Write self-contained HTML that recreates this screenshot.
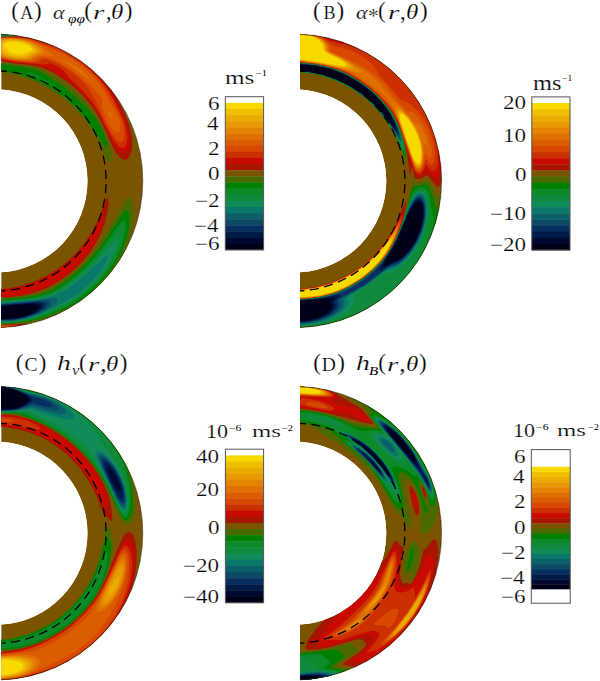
<!DOCTYPE html>
<html><head><meta charset="utf-8">
<style>
html,body{margin:0;padding:0;background:#fff;}
body{width:600px;height:681px;position:relative;overflow:hidden;font-family:"Liberation Serif",serif;color:#111;}
.fig{position:absolute;left:0;top:0;}
.t,.ti{position:absolute;line-height:1;white-space:nowrap;transform-origin:0 0;color:#000;font-family:'Liberation Serif',serif;-webkit-text-stroke:0.2px #fff;}
.ti{font-style:italic;}
.sm{-webkit-text-stroke:0;}
</style></head><body>
<svg class="fig" width="600" height="681" viewBox="0 0 600 681">
<defs>
<clipPath id="clipA"><path d="M1.20,34.29 A146.70,146.70 0 0 1 1.20,327.51 L1.20,272.25 A91.50,91.50 0 0 0 1.20,89.55 Z"/></clipPath>
<clipPath id="clipB"><path d="M300.00,34.29 A146.70,146.70 0 0 1 300.00,327.51 L300.00,272.25 A91.50,91.50 0 0 0 300.00,89.55 Z"/></clipPath>
<clipPath id="clipC"><path d="M1.20,386.59 A146.70,146.70 0 0 1 1.20,679.81 L1.20,624.55 A91.50,91.50 0 0 0 1.20,441.85 Z"/></clipPath>
<clipPath id="clipD"><path d="M300.00,386.59 A146.70,146.70 0 0 1 300.00,679.81 L300.00,624.55 A91.50,91.50 0 0 0 300.00,441.85 Z"/></clipPath>
</defs>
<g clip-path="url(#clipA)">
<path fill="#7b5400" d="M1.20,34.29 A146.70,146.70 0 0 1 1.20,327.51 L1.20,272.25 A91.50,91.50 0 0 0 1.20,89.55 Z"/>
<path fill="#a81400" fill-rule="evenodd" d="M125.7,159.8 123.2,159.7 120.7,158.3 115.2,152.0 101.2,121.6 96.7,113.4 92.2,106.7 81.7,94.2 70.2,83.7 56.1,74.2 48.4,70.2 41.0,67.2 33.2,65.4 14.2,63.3 -0.8,60.7 -0.8,36.8 18.2,36.6 28.7,35.9 34.2,37.0 46.2,41.0 60.7,46.9 73.7,54.0 85.2,61.9 96.5,71.7 106.9,83.2 115.4,95.2 122.8,109.2 129.0,124.2 131.9,136.2 132.2,146.7 131.4,151.7 129.9,155.7 128.2,158.3 125.7,159.8ZM0.2,297.7 -0.8,297.7 -0.8,289.1 8.1,288.2 18.7,286.2 29.1,283.2 38.2,279.7 47.3,275.2 55.6,270.2 63.2,264.7 70.3,258.7 80.7,247.7 90.7,233.8 98.7,218.6 106.7,198.2 107.7,197.0 108.2,197.3 108.6,203.7 107.3,213.7 104.4,224.2 100.5,234.2 95.5,243.7 89.9,252.2 83.5,260.2 75.7,268.2 67.2,275.4 58.7,281.3 49.7,286.5 40.7,290.5 31.7,293.4 21.2,295.7 9.7,297.2 0.2,297.7ZM16.7,329.7 -0.8,329.7 -0.8,324.7 23.7,323.8 27.2,324.0 28.6,324.7 27.9,325.7 24.7,327.3 16.7,329.7Z"/>
<path fill="#c80a00" fill-rule="evenodd" d="M124.2,152.8 121.7,152.5 119.2,150.9 113.7,144.5 99.2,115.3 90.9,102.7 80.2,90.6 68.2,80.4 54.2,71.6 41.2,65.9 33.2,64.3 11.7,62.1 -0.8,59.7 -0.8,37.1 27.7,37.4 34.7,38.9 44.2,41.9 58.2,47.4 70.2,53.6 82.2,61.5 92.2,69.8 102.3,80.2 110.9,91.7 118.0,104.2 125.4,120.2 128.6,131.2 129.6,141.2 129.1,145.7 128.0,149.2 126.2,151.8 124.2,152.8ZM9.7,296.2 -0.8,296.7 -0.8,290.4 8.2,289.4 18.2,287.5 27.2,285.0 36.7,281.5 45.2,277.5 53.2,273.0 60.7,267.9 68.2,262.0 77.4,253.2 85.4,243.7 93.0,232.7 102.2,216.5 103.7,215.1 103.7,219.4 101.7,226.9 98.2,235.7 94.2,243.5 84.7,257.2 78.4,264.2 71.5,270.7 64.6,276.2 57.2,281.2 42.5,288.7 34.2,291.7 26.7,293.7 9.7,296.2ZM11.2,329.7 -0.8,329.7 -0.8,325.0 17.7,324.6 22.8,325.2 22.6,326.2 20.2,327.4 11.2,329.7Z"/>
<path fill="#cc3000" fill-rule="evenodd" d="M123.2,147.8 121.2,147.7 118.7,146.3 112.7,139.3 98.3,111.2 92.1,101.7 82.7,90.8 68.8,77.2 63.7,70.7 56.2,65.7 50.2,63.3 45.7,64.5 43.2,64.5 15.2,61.8 -0.8,58.8 -0.8,37.4 11.7,37.2 24.7,37.9 31.7,39.1 39.7,41.6 55.7,47.6 67.2,53.1 79.2,60.6 89.7,69.0 99.4,78.7 107.5,89.2 113.3,98.7 122.3,116.7 125.9,127.2 127.3,136.7 126.4,144.2 125.2,146.4 123.2,147.8ZM7.2,329.7 -0.8,329.7 -0.8,325.4 14.7,325.1 19.3,325.7 18.9,326.7 16.7,327.7 7.2,329.7Z"/>
<path fill="#d84800" fill-rule="evenodd" d="M120.7,142.2 118.7,141.6 116.7,140.0 111.2,133.1 105.7,122.9 95.7,100.6 87.1,86.2 79.1,77.7 72.0,72.2 63.5,66.7 54.2,61.7 47.7,59.2 43.2,58.8 37.7,61.9 32.2,62.4 14.2,61.0 -0.8,57.9 -0.8,37.7 10.2,37.5 21.2,38.0 28.7,39.1 35.8,41.2 56.3,49.2 65.8,53.7 76.6,60.2 87.1,68.2 96.4,77.2 104.2,86.9 109.2,94.8 119.7,114.6 123.2,124.3 124.5,133.2 123.7,139.8 122.3,141.7 120.7,142.2ZM2.2,329.7 -0.8,329.7 -0.8,325.7 12.2,325.5 16.4,326.2 15.6,327.2 12.2,328.3 2.2,329.7Z"/>
<path fill="#dc5c00" fill-rule="evenodd" d="M118.2,132.5 116.2,132.3 113.2,129.9 109.7,125.2 106.7,119.7 102.2,107.2 101.6,103.7 102.3,99.7 101.2,97.2 90.2,85.2 79.6,75.7 71.7,70.0 62.7,64.4 53.2,59.5 47.2,57.4 43.7,56.9 40.7,57.2 34.2,60.9 28.7,61.5 11.7,59.9 4.2,58.5 -0.8,56.8 -0.8,38.2 8.2,37.8 18.2,38.2 25.7,39.1 32.2,40.8 64.3,54.7 73.2,59.7 82.4,66.2 91.9,74.7 99.7,83.8 104.2,90.7 109.0,100.7 115.7,111.1 118.6,117.7 120.0,123.7 119.9,129.7 119.2,131.5 118.2,132.5ZM3.7,329.2 -0.8,329.4 -0.8,326.0 10.2,325.9 13.8,326.7 10.5,328.2 3.7,329.2Z"/>
<path fill="#e07000" fill-rule="evenodd" d="M30.7,60.3 24.2,60.6 13.2,59.5 4.3,57.7 -0.8,55.5 -0.8,38.8 5.7,38.2 14.7,38.3 23.0,39.2 29.3,40.7 35.7,43.2 41.2,46.2 53.8,55.7 53.2,56.1 45.2,55.4 39.7,55.7 30.7,60.3ZM89.2,78.9 60.5,59.2 61.9,59.2 67.9,61.7 78.2,67.7 86.5,74.7 89.1,77.7 89.6,78.7 89.2,78.9ZM111.7,117.2 110.7,117.0 109.2,115.2 108.3,112.7 108.7,111.4 110.2,112.1 111.3,113.7 112.0,115.7 111.7,117.2ZM4.7,328.7 -0.8,329.0 -0.8,326.3 10.9,326.7 11.0,327.2 10.0,327.7 4.7,328.7Z"/>
<path fill="#e48400" fill-rule="evenodd" d="M26.7,59.7 19.2,59.6 9.5,58.2 4.2,56.7 -0.5,54.2 -0.8,39.8 4.2,38.8 10.7,38.6 18.7,39.1 25.1,40.2 31.2,42.2 36.1,44.7 40.3,47.7 43.0,50.7 43.5,52.2 42.7,53.3 36.4,55.2 31.2,58.5 26.7,59.7ZM4.7,328.3 -0.8,328.6 -0.8,326.7 6.2,326.7 8.2,327.2 4.7,328.3Z"/>
<path fill="#e89800" fill-rule="evenodd" d="M25.2,58.7 18.7,58.8 11.2,57.7 5.9,56.2 1.9,54.2 -0.8,51.9 -0.8,41.3 3.2,39.7 7.7,39.1 14.8,39.2 22.2,40.2 27.5,41.7 32.1,43.7 36.0,46.2 39.1,49.2 39.9,51.2 38.9,52.7 33.9,54.7 29.1,57.7 25.2,58.7ZM2.7,327.7 -0.8,327.5 3.1,327.7 2.7,327.7Z"/>
<path fill="#ebab00" fill-rule="evenodd" d="M23.2,57.7 18.2,57.8 12.7,57.0 8.0,55.7 3.8,53.7 1.9,52.2 0.6,50.2 -0.7,45.2 -0.2,43.2 2.5,41.2 6.2,40.1 11.7,39.7 18.5,40.2 23.7,41.3 28.8,43.2 33.2,45.7 36.4,48.7 37.1,50.7 36.0,52.2 27.3,56.7 23.2,57.7Z"/>
<path fill="#f0c000" fill-rule="evenodd" d="M22.7,56.2 18.7,56.5 14.2,56.0 9.5,54.7 6.4,53.2 3.5,50.2 1.7,45.7 2.1,43.7 4.2,42.0 7.7,40.9 12.2,40.5 17.7,40.9 22.7,41.9 27.5,43.7 31.1,45.7 33.8,48.2 34.6,50.2 33.7,51.4 25.7,55.4 22.7,56.2Z"/>
<path fill="#f8da00" fill-rule="evenodd" d="M21.2,54.3 15.6,54.2 10.1,52.2 5.1,46.7 4.5,45.2 4.8,44.2 6.7,42.7 9.7,41.8 17.7,41.8 26.0,44.2 29.5,46.2 31.5,48.2 32.0,49.7 30.7,51.0 21.2,54.3Z"/>
<path fill="#4a6a00" fill-rule="evenodd" d="M16.7,36.2 -0.8,36.5 -0.8,32.2 14.0,32.2 18.9,33.7 20.7,35.2 16.7,36.2ZM110.2,162.0 108.7,161.6 107.2,159.6 96.7,138.7 88.7,125.6 79.7,114.0 69.6,103.7 62.5,97.7 54.8,92.2 46.6,87.2 37.6,82.7 28.9,79.2 19.5,76.2 8.6,73.7 -0.8,72.3 -0.8,61.8 12.7,64.3 32.7,66.7 41.4,69.2 49.5,73.2 58.4,78.7 67.3,85.2 75.7,92.3 84.2,100.6 91.7,109.4 97.7,118.1 102.7,127.3 107.7,138.7 110.8,148.7 111.7,157.2 111.2,160.4 110.2,162.0ZM4.7,324.2 -0.8,324.3 -0.8,298.6 19.2,296.8 41.1,292.2 52.3,287.2 66.7,277.6 80.5,265.7 93.7,251.3 100.2,242.7 107.2,232.1 124.7,200.9 128.2,197.6 129.7,197.6 130.7,198.3 132.2,200.9 133.3,205.2 133.8,216.2 132.3,228.7 128.6,242.2 123.4,254.7 116.9,266.2 109.5,276.7 100.1,287.2 90.2,296.1 80.2,303.4 69.2,309.8 56.7,315.5 46.2,319.0 35.7,321.4 20.2,323.2 4.7,324.2Z"/>
<path fill="#008000" fill-rule="evenodd" d="M7.2,36.2 -0.8,36.3 -0.8,32.2 10.2,32.2 15.2,33.4 17.6,34.7 17.6,35.2 16.2,35.7 7.2,36.2ZM106.2,146.3 105.2,146.2 103.2,144.1 91.4,126.2 82.5,114.7 73.2,104.9 63.2,96.3 49.2,86.9 34.2,79.5 17.7,73.9 -0.8,70.0 -0.8,63.7 11.2,65.8 27.6,67.7 35.3,69.7 41.2,72.4 49.2,77.1 64.7,87.8 73.7,95.2 82.1,103.2 89.7,111.4 95.7,119.1 100.2,126.3 104.2,134.8 106.5,142.2 106.7,144.7 106.2,146.3ZM6.7,323.7 -0.8,323.9 -0.8,299.6 29.4,296.7 39.2,294.9 50.7,290.7 62.4,283.7 77.6,271.7 91.2,258.2 104.7,241.1 122.7,213.3 125.7,210.5 127.7,210.7 128.9,212.7 129.5,216.2 129.2,226.2 127.0,237.2 122.8,249.2 117.4,260.2 111.1,270.2 103.7,279.7 95.0,288.7 86.2,296.1 77.2,302.4 67.2,308.1 56.2,313.0 43.7,317.4 30.7,320.9 19.5,322.7 6.7,323.7Z"/>
<path fill="#0a8a28" fill-rule="evenodd" d="M12.2,35.7 -0.8,36.0 -0.8,32.2 8.2,32.4 13.2,33.5 15.3,34.7 15.0,35.2 12.2,35.7ZM57.7,88.6 45.2,81.5 26.7,72.7 27.7,72.2 30.7,72.7 38.9,76.2 51.7,83.7 58.1,88.2 57.7,88.6ZM59.2,89.4 57.8,88.7 58.2,88.4 59.2,89.4ZM7.7,323.2 -0.8,323.3 -0.8,300.7 27.2,298.2 39.6,296.2 50.3,292.7 61.3,286.7 75.6,276.2 89.1,263.7 102.7,247.8 120.2,223.0 123.2,220.3 124.2,220.2 125.0,220.7 125.8,222.7 126.1,225.7 124.9,234.7 122.0,244.7 117.5,255.2 112.1,264.7 105.3,274.2 98.0,282.7 89.7,290.6 81.7,296.9 72.7,302.9 63.2,308.1 53.2,312.5 40.7,317.0 28.7,320.4 18.7,322.2 7.7,323.2Z"/>
<path fill="#0f8a3c" fill-rule="evenodd" d="M7.2,35.7 -0.8,35.8 -0.8,32.2 7.7,32.7 11.8,33.7 13.3,34.7 11.7,35.3 7.2,35.7ZM7.2,322.7 -0.8,322.7 -0.8,301.6 26.6,299.2 38.7,297.5 48.7,294.7 59.2,289.7 73.1,280.2 86.2,269.0 99.6,254.7 117.2,232.2 119.7,230.0 120.7,229.7 121.5,230.2 122.0,234.7 120.2,243.1 116.7,252.2 112.1,261.2 106.5,269.7 100.2,277.7 93.2,285.2 85.2,292.3 77.2,298.2 68.2,303.8 58.7,308.7 47.7,313.3 36.2,317.4 26.7,320.0 17.2,321.8 7.2,322.7Z"/>
<path fill="#108c58" fill-rule="evenodd" d="M9.2,35.2 -0.8,35.6 -0.8,32.3 6.2,32.9 11.0,34.2 11.2,34.7 9.2,35.2ZM6.2,322.2 -0.8,322.1 -0.8,302.4 27.2,299.9 38.7,298.4 48.7,295.9 57.7,292.0 69.2,284.9 81.7,275.1 94.7,262.7 112.7,242.5 115.2,240.6 116.7,240.9 116.6,245.2 114.2,252.6 110.2,260.7 105.7,268.0 100.2,275.3 94.1,282.2 87.2,288.7 79.8,294.7 71.6,300.2 62.8,305.2 40.7,315.0 23.7,320.1 15.2,321.5 6.2,322.2Z"/>
<path fill="#0a7868" fill-rule="evenodd" d="M5.2,35.2 -0.8,35.3 -0.8,32.6 5.7,33.2 9.0,34.2 8.8,34.7 5.2,35.2ZM12.7,321.2 -0.8,321.5 -0.8,303.1 38.2,299.3 48.7,297.1 57.2,294.0 65.7,289.5 75.7,282.5 87.2,273.0 104.2,257.2 106.7,255.6 107.7,256.0 107.2,259.2 105.2,263.7 101.2,270.2 96.7,276.1 87.1,286.2 75.1,295.7 59.1,305.2 40.3,314.2 26.2,318.9 12.7,321.2Z"/>
<path fill="#0a6066" fill-rule="evenodd" d="M5.7,34.7 -0.8,35.0 -0.8,33.0 3.7,33.3 6.8,34.2 5.7,34.7ZM12.7,320.7 -0.8,321.0 -0.8,303.7 33.0,300.7 53.2,297.8 55.7,297.8 57.0,298.7 56.8,301.7 54.5,304.7 49.8,308.2 43.7,311.7 36.2,315.0 28.7,317.6 20.7,319.5 12.7,320.7Z"/>
<path fill="#0a4a66" fill-rule="evenodd" d="M3.7,34.2 -0.8,34.6 -0.8,33.5 3.7,34.2ZM12.7,320.2 -0.8,320.4 -0.8,304.4 44.7,300.2 48.7,300.5 50.3,301.7 50.1,304.2 47.9,307.2 44.0,310.2 39.5,312.7 26.7,317.6 12.7,320.2Z"/>
<path fill="#062e60" fill-rule="evenodd" d="M13.2,319.7 -0.8,319.9 -0.8,305.0 39.7,301.6 44.2,301.8 46.4,303.2 46.1,305.7 44.2,308.2 41.0,310.7 36.6,313.2 25.7,317.3 13.2,319.7Z"/>
<path fill="#001a4a" fill-rule="evenodd" d="M13.2,319.3 6.2,319.7 -0.8,319.4 -0.8,305.6 35.7,302.6 40.7,302.7 43.3,304.2 43.2,306.2 41.5,308.7 34.9,313.2 24.7,317.0 13.2,319.3Z"/>
<path fill="#000a30" fill-rule="evenodd" d="M6.7,319.2 -0.8,318.9 -0.8,306.2 13.2,304.7 32.7,303.4 38.5,303.7 40.7,305.2 40.5,307.2 38.5,309.7 35.0,312.2 29.9,314.7 18.7,317.9 6.7,319.2Z"/>
<path fill="#000018" fill-rule="evenodd" d="M7.7,318.7 -0.8,318.3 -0.8,306.9 12.2,305.3 29.2,304.2 35.2,304.3 38.2,305.7 38.2,307.7 36.7,309.7 33.4,312.2 29.4,314.2 19.2,317.3 7.7,318.7Z"/>
<path d="M-1.80,70.92 A110.00,110.00 0 0 1 -1.80,290.88" fill="none" stroke="#000" stroke-width="1.3" stroke-dasharray="9 5.5"/>
</g>
<path d="M1.20,34.29 A146.70,146.70 0 0 1 1.20,327.51" fill="none" stroke="#2a1a00" stroke-opacity="0.8" stroke-width="0.8"/>
<g clip-path="url(#clipB)">
<path fill="#7b5400" d="M300.00,34.29 A146.70,146.70 0 0 1 300.00,327.51 L300.00,272.25 A91.50,91.50 0 0 0 300.00,89.55 Z"/>
<path fill="#a81400" fill-rule="evenodd" d="M438.5,186.9 437.5,187.0 436.0,185.9 429.0,176.9 427.0,175.3 426.0,175.4 420.5,178.7 415.5,179.3 414.5,177.4 413.0,170.3 411.5,166.5 410.3,175.7 409.3,171.7 407.2,154.2 405.3,145.2 401.7,132.7 396.8,120.2 393.0,113.1 388.0,106.3 381.2,98.7 373.5,91.4 365.5,84.9 357.5,79.4 348.0,73.9 340.0,70.3 331.0,67.3 320.5,64.9 310.5,63.3 298.0,62.3 298.0,32.2 314.0,32.2 324.7,35.7 344.0,39.9 359.5,45.6 372.5,52.0 385.0,60.0 396.0,68.8 406.6,79.2 416.8,91.7 424.8,104.2 431.8,118.2 437.3,133.2 441.2,150.2 442.7,166.2 442.6,173.7 441.7,180.2 440.4,184.7 438.5,186.9ZM304.0,298.7 298.0,298.9 298.0,288.8 306.2,288.2 317.9,286.2 328.7,283.2 338.0,279.7 347.2,275.2 355.6,270.2 364.5,263.7 371.8,257.2 381.5,246.7 391.0,233.2 397.5,221.1 405.0,202.5 406.0,200.5 406.4,200.7 406.0,206.5 403.5,217.1 400.0,227.8 395.5,238.7 391.0,247.4 386.0,255.2 381.0,261.6 375.0,267.9 367.5,274.4 359.5,280.3 351.0,285.5 342.0,289.9 333.0,293.4 324.5,295.8 314.4,297.7 304.0,298.7Z"/>
<path fill="#c80a00" fill-rule="evenodd" d="M437.5,177.8 435.5,177.7 432.5,176.3 426.5,170.1 425.5,170.5 422.0,174.9 420.0,176.1 417.5,176.2 415.0,174.5 411.5,162.9 410.0,159.7 409.0,159.0 402.6,134.7 396.0,117.5 391.5,110.2 386.0,103.3 378.7,95.7 371.0,88.8 362.5,82.4 355.0,77.5 347.0,73.1 339.5,69.8 330.0,66.9 319.0,64.5 298.0,62.1 298.0,32.2 310.5,32.2 327.5,38.2 346.7,42.7 360.0,47.6 372.0,53.6 383.2,60.7 393.5,68.7 403.5,78.1 413.0,89.2 421.5,101.6 428.5,114.6 434.0,128.2 438.1,143.2 440.3,158.7 440.5,166.2 440.1,172.2 439.0,176.1 437.5,177.8ZM301.5,298.7 298.0,298.8 298.0,289.2 309.1,288.2 317.3,286.7 326.8,284.2 335.2,281.2 344.1,277.2 353.1,272.2 360.5,267.2 368.0,261.2 378.5,250.8 387.0,240.1 394.0,229.0 403.0,210.9 404.0,209.4 404.3,209.7 403.5,215.5 400.5,225.7 396.5,236.0 391.5,246.2 387.0,253.6 382.5,259.6 377.0,265.7 370.6,271.7 363.0,277.7 355.5,282.7 347.5,287.2 338.5,291.3 330.0,294.2 321.5,296.3 312.5,297.8 301.5,298.7Z"/>
<path fill="#cc3000" fill-rule="evenodd" d="M420.0,173.9 418.5,174.1 417.0,173.6 414.5,170.6 398.0,121.1 393.6,112.7 387.2,104.2 378.2,94.7 368.3,86.2 358.0,78.9 346.5,72.4 336.5,68.5 325.0,65.5 313.0,63.3 298.0,61.8 298.0,32.2 307.8,32.2 311.0,33.0 319.0,35.8 330.5,41.0 347.9,45.2 364.3,51.7 376.1,58.2 387.0,65.7 397.6,74.7 407.5,85.2 418.5,100.1 427.5,116.7 434.0,133.8 437.5,149.7 438.1,162.2 437.5,166.2 436.1,169.2 434.0,170.8 431.5,170.7 426.0,164.7 422.5,171.7 420.0,173.9ZM307.5,298.2 298.0,298.7 298.0,289.5 313.5,287.7 330.5,283.2 345.6,276.7 359.5,268.2 371.6,258.2 383.0,245.9 391.5,233.9 402.5,214.8 402.0,219.6 399.0,229.2 395.5,237.7 391.0,246.7 382.5,259.4 371.0,271.2 356.9,281.7 349.0,286.3 340.8,290.2 332.9,293.2 323.9,295.7 307.5,298.2Z"/>
<path fill="#d84800" fill-rule="evenodd" d="M419.5,172.2 417.0,171.7 414.5,168.6 398.5,121.5 393.7,112.2 387.3,103.7 378.0,94.0 368.0,85.5 356.5,77.5 346.5,72.0 337.5,68.5 325.5,65.4 312.0,63.0 298.0,61.5 298.0,32.2 305.4,32.2 315.5,35.0 324.4,39.2 334.0,46.0 343.0,47.9 349.5,50.0 356.5,53.1 363.0,56.8 368.9,61.2 374.1,66.2 377.1,70.2 379.9,75.7 400.0,99.0 402.5,100.9 406.5,101.9 410.0,103.9 418.6,111.7 425.1,120.7 430.2,131.2 433.8,143.2 435.1,154.2 434.6,160.2 433.0,164.2 431.5,165.2 430.0,164.7 426.5,159.7 425.5,159.3 422.8,168.7 421.1,171.2 419.5,172.2ZM306.0,298.2 298.0,298.5 298.0,289.7 308.5,288.7 316.9,287.2 326.5,284.7 335.1,281.7 343.0,278.2 351.4,273.7 359.1,268.7 366.9,262.7 376.0,254.2 384.5,244.3 391.0,235.2 401.0,219.0 400.5,223.5 397.5,232.4 393.5,241.5 389.0,249.9 380.5,261.6 369.0,272.7 355.1,282.7 347.0,287.2 339.3,290.7 323.4,295.7 306.0,298.2Z"/>
<path fill="#dc5c00" fill-rule="evenodd" d="M419.0,170.8 416.5,169.7 414.5,167.1 399.0,122.0 393.7,111.2 388.3,103.7 380.5,95.6 370.0,86.4 357.5,77.5 348.0,72.0 338.5,68.5 326.5,65.3 313.0,62.9 298.0,61.2 298.0,32.2 302.9,32.2 309.0,33.4 315.5,35.5 321.4,38.2 325.9,41.2 328.8,44.2 330.2,46.7 330.2,50.2 331.0,51.2 359.0,64.5 368.0,70.0 376.5,76.6 383.9,83.7 399.5,103.2 406.5,111.1 408.5,112.3 410.0,111.0 411.5,111.3 414.5,113.4 418.0,116.9 423.5,124.5 427.8,133.2 430.8,142.7 432.0,151.2 431.5,156.1 430.0,158.3 428.5,157.5 426.0,153.6 425.0,153.1 422.8,166.2 421.0,169.6 419.0,170.8ZM303.5,298.2 298.0,298.4 298.0,289.8 315.3,287.7 323.7,285.7 332.9,282.7 349.1,275.2 356.5,270.7 364.1,265.2 373.2,257.2 382.1,247.7 388.6,239.2 399.6,222.7 399.0,227.1 396.0,235.4 392.0,244.1 387.5,252.0 378.5,263.6 366.4,274.7 359.6,279.7 351.5,284.7 336.4,291.7 320.3,296.2 303.5,298.2Z"/>
<path fill="#e07000" fill-rule="evenodd" d="M419.5,169.2 417.0,168.8 414.0,164.7 399.5,122.6 392.5,106.5 387.0,98.3 382.0,93.5 366.0,81.5 357.0,75.4 350.0,71.9 339.5,68.3 326.0,65.0 314.5,62.9 298.0,60.9 298.0,32.2 303.5,32.7 310.0,34.1 316.0,36.2 321.2,38.7 324.8,41.2 327.4,44.2 328.5,46.7 328.4,50.2 329.7,51.7 346.5,59.9 361.9,68.7 369.3,73.7 378.6,82.2 389.2,95.2 403.0,109.5 414.5,122.5 415.5,123.3 417.0,122.5 419.0,124.1 422.0,128.3 425.0,134.4 427.0,140.5 427.6,144.7 427.0,146.9 423.5,143.1 423.6,155.2 423.1,161.7 421.7,166.7 419.5,169.2ZM299.5,298.2 298.0,298.2 298.0,290.0 313.5,288.2 330.6,283.7 346.5,276.8 361.0,267.7 370.3,260.2 379.3,251.2 387.8,240.7 397.0,227.1 398.0,225.9 398.5,226.1 397.5,230.5 394.0,239.4 390.0,247.4 385.5,254.7 375.8,266.2 362.9,277.2 348.4,286.2 333.2,292.7 324.3,295.2 316.6,296.7 299.5,298.2Z"/>
<path fill="#e48400" fill-rule="evenodd" d="M362.0,72.7 355.5,72.1 322.5,64.0 298.0,60.5 298.0,32.5 304.0,33.1 310.5,34.7 316.2,36.7 321.1,39.2 324.3,41.7 326.3,44.2 327.2,46.7 327.0,49.7 328.4,51.7 340.5,57.4 348.9,62.2 359.0,69.2 361.7,71.7 362.0,72.7ZM419.5,167.9 418.0,168.0 416.5,167.2 413.5,162.4 396.5,113.7 395.4,108.7 396.2,106.7 398.0,106.9 400.5,108.5 408.4,116.7 415.2,126.2 419.2,134.2 422.1,144.7 423.0,154.7 422.2,163.2 421.0,166.3 419.5,167.9ZM306.0,297.7 298.0,298.0 298.0,290.2 313.5,288.4 327.5,284.9 340.5,279.9 353.5,273.0 365.0,264.9 375.8,255.2 384.2,245.7 395.5,230.2 397.0,228.8 396.5,232.1 393.0,240.9 389.0,248.7 385.0,255.0 376.0,265.7 364.0,276.2 350.9,284.7 337.0,291.2 321.3,295.7 306.0,297.7Z"/>
<path fill="#e89800" fill-rule="evenodd" d="M352.0,69.3 346.0,68.8 318.5,63.0 298.0,60.1 298.0,32.8 304.5,33.6 310.5,35.0 316.4,37.2 320.9,39.7 323.4,41.7 325.3,44.2 326.1,46.2 325.9,49.7 326.8,51.2 329.5,53.0 341.5,58.6 348.9,63.2 353.3,67.2 353.3,68.7 352.0,69.3ZM419.0,166.8 417.5,166.7 416.0,165.5 413.0,160.1 398.1,117.2 397.0,111.7 397.3,110.2 398.0,109.5 400.0,109.7 402.5,111.4 409.3,118.7 415.3,127.7 419.2,136.2 421.7,145.7 422.6,155.7 421.6,163.2 420.5,165.5 419.0,166.8ZM302.5,297.7 298.0,297.8 298.0,290.3 314.5,288.3 331.0,283.9 346.0,277.4 360.0,268.9 369.0,261.8 377.5,253.7 383.7,246.7 394.0,233.1 395.5,231.7 395.0,235.0 391.5,243.4 387.5,250.8 383.5,256.8 373.8,267.7 361.0,278.2 347.8,286.2 333.8,292.2 320.4,295.7 302.5,297.7Z"/>
<path fill="#ebab00" fill-rule="evenodd" d="M349.0,67.7 344.0,67.7 320.0,62.9 298.0,59.7 298.0,33.2 310.0,35.3 315.3,37.2 320.0,39.7 322.5,41.7 324.4,44.2 325.1,46.2 325.0,49.7 326.5,51.7 329.0,53.3 339.7,58.2 346.3,62.2 349.9,65.7 350.0,67.1 349.0,67.7ZM419.5,165.2 418.0,165.7 416.5,164.9 414.5,162.3 413.0,159.2 399.5,120.2 398.2,114.2 398.4,112.2 399.0,111.4 400.5,111.4 402.5,112.4 408.5,118.4 414.2,126.7 418.3,135.2 420.9,143.7 422.1,153.2 421.6,160.7 420.6,163.7 419.5,165.2ZM307.0,297.2 298.0,297.6 298.0,290.5 312.0,288.9 325.0,285.9 339.0,280.9 351.0,274.8 361.5,268.0 372.5,258.9 380.1,251.2 392.5,235.9 394.1,234.7 393.5,237.7 390.0,245.6 382.5,257.7 373.0,268.2 361.4,277.7 348.4,285.7 336.1,291.2 321.9,295.2 307.0,297.2Z"/>
<path fill="#f0c000" fill-rule="evenodd" d="M346.0,66.8 341.0,66.5 317.0,62.0 298.0,59.4 298.0,33.6 310.0,35.7 315.4,37.7 319.5,40.0 323.5,44.2 324.1,46.2 324.0,49.2 325.5,51.5 328.0,53.4 337.7,57.7 344.4,61.7 347.6,65.2 347.4,66.2 346.0,66.8ZM419.0,164.2 417.5,164.3 416.0,163.3 412.5,157.0 400.1,120.7 399.0,115.2 399.3,113.7 400.0,112.9 401.5,112.9 403.5,114.0 409.0,119.8 414.3,127.7 418.2,136.2 420.7,144.7 421.7,153.2 421.0,160.7 420.0,163.2 419.0,164.2ZM301.5,297.2 298.0,297.3 298.0,290.7 313.5,288.8 329.0,284.9 343.5,279.0 357.0,271.3 366.5,264.4 374.0,257.8 381.8,249.7 391.0,238.6 392.5,237.6 391.5,241.4 388.0,248.7 380.5,259.8 370.5,270.2 357.4,280.2 344.0,287.7 331.0,292.7 317.8,295.7 301.5,297.2Z"/>
<path fill="#f8da00" fill-rule="evenodd" d="M344.0,65.8 339.0,65.6 313.5,60.9 298.0,59.0 298.0,34.0 303.9,34.7 310.0,36.1 315.0,38.0 318.9,40.2 322.6,44.2 323.1,49.2 324.9,51.7 327.5,53.7 336.6,57.7 342.5,61.2 345.4,64.2 345.2,65.2 344.0,65.8ZM418.0,163.2 416.5,162.6 414.5,160.2 411.5,153.4 401.0,122.6 399.9,116.7 400.0,115.2 401.0,114.1 402.5,114.4 404.5,115.6 409.6,121.2 414.7,129.2 418.2,137.2 420.5,145.9 421.3,154.2 420.3,160.7 419.5,162.3 418.0,163.2ZM304.0,296.7 298.0,296.9 298.0,290.9 311.5,289.4 323.0,286.9 336.5,282.4 349.0,276.4 359.5,269.9 370.5,261.3 377.9,254.2 389.0,241.8 390.6,240.7 390.0,243.3 386.5,250.4 379.0,261.1 369.5,270.7 356.9,280.2 344.5,287.2 331.7,292.2 318.8,295.2 304.0,296.7Z"/>
<path fill="#4a6a00" fill-rule="evenodd" d="M406.5,163.3 398.0,142.2 390.5,128.2 381.0,114.7 370.3,103.2 363.4,97.2 354.5,90.7 346.0,85.7 336.6,81.2 327.2,77.7 318.2,75.2 307.3,73.2 298.0,72.4 298.0,62.5 309.5,63.4 320.0,65.0 330.5,67.4 341.0,71.0 349.5,75.0 359.5,81.0 368.5,87.5 376.0,94.1 383.9,102.2 389.3,108.7 393.7,115.2 397.7,123.2 402.1,134.7 405.6,147.7 407.1,158.2 407.1,162.2 406.5,163.3ZM331.0,329.7 298.0,329.7 298.0,299.1 308.0,298.5 318.0,297.3 328.5,294.9 337.5,291.9 347.5,287.5 356.5,282.4 365.0,276.5 373.0,269.9 380.6,262.2 387.0,254.0 392.5,245.0 398.0,233.5 402.5,221.4 406.0,209.2 411.0,187.3 412.5,175.4 415.0,183.9 426.0,180.3 428.0,180.6 430.5,183.8 436.0,194.9 437.5,196.3 440.5,196.4 441.5,197.1 442.2,201.7 442.0,210.7 439.7,226.2 435.3,241.7 429.2,256.2 421.2,270.2 413.2,281.2 403.8,291.7 393.5,301.0 382.0,309.5 370.0,316.5 357.0,322.5 343.5,326.9 331.0,329.7Z"/>
<path fill="#008000" fill-rule="evenodd" d="M406.0,157.4 405.5,157.6 404.5,156.0 395.0,135.2 387.5,122.7 378.5,111.1 367.0,99.7 359.5,93.7 352.0,88.7 343.9,84.2 335.1,80.2 326.8,77.2 317.7,74.7 306.5,72.7 298.0,72.0 298.0,62.7 309.0,63.5 319.0,64.9 328.5,67.0 338.0,70.0 346.0,73.5 355.0,78.4 363.5,84.0 371.5,90.3 378.9,97.2 385.7,104.7 391.3,112.2 395.8,119.7 400.1,129.7 403.3,139.7 405.6,150.2 406.0,157.4ZM306.0,329.2 298.0,329.2 298.0,299.2 308.0,298.7 318.0,297.4 327.0,295.4 336.5,292.4 346.0,288.4 355.0,283.5 364.0,277.4 371.5,271.4 379.0,264.2 385.3,256.7 390.6,248.7 395.5,239.4 399.5,230.3 403.5,219.1 413.0,185.5 414.5,188.0 417.5,185.8 420.5,184.7 426.0,184.7 428.0,185.5 430.4,189.7 434.0,202.0 437.6,209.2 437.7,216.2 436.3,226.2 432.2,241.2 426.2,255.7 418.1,269.7 408.7,282.2 399.0,292.5 388.0,301.8 376.0,310.0 363.0,316.8 350.0,321.9 336.5,325.6 321.5,328.1 306.0,329.2Z"/>
<path fill="#0a8a28" fill-rule="evenodd" d="M405.0,153.7 403.5,151.9 394.0,132.7 386.5,120.8 377.5,109.6 366.2,98.7 358.5,92.7 351.6,88.2 343.4,83.7 334.5,79.7 326.0,76.7 316.5,74.2 308.2,72.7 298.0,71.7 298.0,62.9 308.0,63.5 318.5,65.0 328.0,67.0 337.5,70.0 345.5,73.4 354.0,78.0 362.5,83.5 371.0,90.1 378.6,97.2 385.4,104.7 390.6,111.7 395.2,119.2 399.1,127.7 402.0,136.2 405.0,148.7 405.0,153.7ZM303.5,327.7 298.0,327.7 298.0,299.3 308.0,298.8 318.5,297.4 327.5,295.4 337.0,292.4 346.0,288.5 354.5,283.9 363.0,278.3 370.5,272.4 377.7,265.7 383.9,258.7 389.2,251.2 394.0,242.8 401.5,225.6 412.5,192.0 414.5,191.1 417.5,188.2 420.0,187.2 423.0,187.4 426.6,189.2 428.4,191.7 429.6,195.2 431.8,210.2 433.5,218.2 433.4,223.7 432.0,231.6 428.0,244.8 422.0,258.2 414.5,270.7 405.0,282.8 395.3,292.7 384.9,301.2 373.4,308.7 361.7,314.7 348.6,319.7 333.8,323.7 318.0,326.6 303.5,327.7Z"/>
<path fill="#0f8a3c" fill-rule="evenodd" d="M404.0,150.4 402.5,148.5 393.5,131.3 386.0,119.7 376.5,108.2 365.9,98.2 359.5,93.2 351.1,87.7 335.0,79.7 326.6,76.7 317.4,74.2 305.9,72.2 298.0,71.5 298.0,63.0 308.0,63.6 318.5,65.1 327.5,67.1 337.0,70.0 345.0,73.4 353.5,77.9 361.5,83.0 369.5,89.0 376.9,95.7 383.8,103.2 389.7,110.7 394.1,117.7 398.1,125.7 401.0,133.8 404.0,145.5 404.4,149.2 404.0,150.4ZM309.0,326.2 298.0,326.6 298.0,299.4 308.5,298.9 319.0,297.5 328.0,295.4 336.0,292.9 345.5,288.9 354.0,284.4 363.0,278.5 370.5,272.6 377.4,266.2 383.3,259.7 388.7,252.2 393.2,244.7 400.5,228.7 409.2,203.2 412.5,195.1 416.5,191.1 419.0,189.5 422.0,189.4 424.5,190.8 426.5,193.2 427.8,196.2 429.2,206.7 428.6,220.2 426.0,236.6 422.5,247.6 417.5,258.5 411.0,269.3 403.5,279.2 395.0,288.2 385.7,296.2 375.7,303.2 364.9,309.2 351.1,315.2 334.5,321.1 321.5,324.4 309.0,326.2Z"/>
<path fill="#108c58" fill-rule="evenodd" d="M403.0,147.4 392.5,129.2 385.0,118.0 375.5,106.9 365.0,97.2 350.5,87.1 342.2,82.7 334.2,79.2 325.5,76.2 315.9,73.7 298.0,71.3 298.0,63.2 307.4,63.7 318.0,65.1 327.0,67.1 336.5,70.0 345.0,73.5 352.5,77.4 360.5,82.4 368.0,88.0 375.5,94.6 382.3,101.7 388.7,109.7 393.3,116.7 397.0,123.8 400.0,131.6 403.0,142.5 403.5,146.2 403.0,147.4ZM300.0,325.7 298.0,325.7 298.0,299.5 308.5,299.0 317.5,297.8 327.0,295.9 336.5,292.9 346.0,288.8 355.0,283.9 364.0,277.9 371.0,272.4 377.6,266.2 383.4,259.7 388.2,253.2 393.0,245.2 400.5,229.2 408.5,206.5 412.0,198.1 416.0,193.3 418.5,191.5 421.0,191.2 423.8,192.7 425.3,194.7 426.6,197.7 427.8,205.2 427.6,215.2 425.8,225.7 422.8,235.2 418.7,244.2 413.8,252.2 407.3,260.2 402.0,265.3 396.5,269.4 389.5,273.0 382.0,274.8 370.0,284.0 355.3,293.7 354.6,294.7 355.5,297.2 355.6,299.7 354.0,304.2 349.4,309.7 343.0,314.4 334.0,318.9 323.5,322.5 311.5,324.9 300.0,325.7Z"/>
<path fill="#0a7868" fill-rule="evenodd" d="M402.5,144.2 402.0,144.5 401.0,143.3 391.2,126.7 382.6,114.7 373.1,104.2 362.7,95.2 348.0,85.5 332.0,78.2 316.0,73.6 298.0,71.1 298.0,63.4 307.5,63.8 317.5,65.2 326.5,67.1 335.0,69.6 342.5,72.5 350.5,76.5 358.0,80.9 366.0,86.6 373.5,92.9 380.3,99.7 386.3,106.7 391.6,114.2 395.5,121.2 398.5,128.1 401.5,137.8 402.5,144.2ZM304.0,324.7 298.0,324.9 298.0,299.7 309.0,299.1 318.0,297.9 327.5,295.9 337.0,292.9 346.0,289.0 354.5,284.4 363.0,278.9 370.5,273.0 377.4,266.7 382.8,260.7 387.7,254.2 392.6,246.2 399.7,231.7 408.5,207.6 412.0,199.9 415.5,195.4 418.0,193.4 420.5,192.9 423.0,194.2 425.6,198.7 426.9,205.7 426.7,214.7 425.1,224.2 422.2,233.7 418.4,242.2 413.2,250.7 407.6,257.7 402.5,262.6 397.5,266.4 392.0,269.3 385.0,271.3 368.0,284.4 348.0,296.7 347.4,297.7 348.6,301.7 347.3,305.7 343.7,310.2 338.5,314.4 331.0,318.4 323.0,321.4 314.0,323.5 304.0,324.7Z"/>
<path fill="#0a6066" fill-rule="evenodd" d="M401.0,141.7 389.9,124.2 382.0,113.7 372.5,103.4 362.0,94.5 347.5,85.1 332.0,78.1 323.0,75.1 314.5,73.1 298.0,71.0 298.0,63.5 308.0,64.0 317.0,65.2 326.5,67.2 334.5,69.6 342.0,72.5 350.5,76.6 365.0,86.0 372.5,92.2 379.7,99.2 385.7,106.2 391.0,113.7 395.0,120.7 398.0,127.7 401.0,137.4 401.5,140.7 401.0,141.7ZM306.5,323.7 298.0,324.2 298.0,299.8 307.5,299.4 319.0,297.9 328.0,296.0 337.5,293.0 345.5,289.6 354.0,285.0 362.5,279.5 371.0,272.9 382.3,261.7 387.2,255.2 392.2,247.2 399.2,233.2 408.5,208.7 412.0,201.5 415.5,196.9 417.5,195.2 420.0,194.5 422.5,195.7 425.0,200.2 426.1,207.2 425.9,215.7 424.3,224.7 421.6,233.2 417.8,241.7 413.2,249.2 407.7,256.2 403.0,260.9 398.5,264.4 393.5,267.1 386.5,269.3 366.5,284.8 344.3,297.7 343.2,299.2 344.5,302.7 343.5,306.2 340.5,310.2 335.6,314.2 329.5,317.6 322.5,320.4 314.5,322.5 306.5,323.7Z"/>
<path fill="#0a4a66" fill-rule="evenodd" d="M400.0,139.0 388.8,122.2 380.6,111.7 371.0,101.8 361.0,93.5 346.5,84.4 331.0,77.5 315.0,73.0 298.0,70.8 298.0,63.7 316.2,65.2 333.0,69.2 348.5,75.7 356.3,80.2 363.7,85.2 371.2,91.2 378.0,97.7 384.0,104.4 389.5,111.7 393.5,118.3 396.5,124.7 400.0,135.3 400.5,138.2 400.0,139.0ZM304.5,323.2 298.0,323.5 298.0,300.0 308.5,299.4 319.5,298.0 329.0,296.0 337.0,293.5 344.5,290.4 353.0,286.0 361.5,280.5 369.5,274.5 376.5,268.3 381.3,263.2 386.3,256.7 391.2,249.2 398.7,234.7 408.5,209.7 411.8,203.2 415.0,198.8 417.5,196.6 420.0,196.1 422.0,197.1 424.3,201.2 425.4,207.7 425.2,215.7 423.7,224.7 421.2,232.7 417.3,241.2 412.8,248.7 407.0,255.9 402.5,260.2 398.0,263.6 387.0,268.2 365.5,284.7 340.9,298.7 339.9,300.2 341.2,303.2 340.5,306.7 337.5,310.7 333.1,314.2 327.5,317.3 320.5,320.1 313.0,322.0 304.5,323.2Z"/>
<path fill="#062e60" fill-rule="evenodd" d="M399.0,136.1 397.0,134.1 386.1,118.2 379.1,109.7 370.5,101.1 360.0,92.6 346.0,83.9 330.0,77.0 313.5,72.6 298.0,70.6 298.0,63.9 315.3,65.2 332.6,69.2 347.2,75.2 362.1,84.2 375.8,95.7 382.0,102.2 387.5,109.2 391.5,115.2 395.0,122.0 398.5,131.6 399.0,136.1ZM302.0,322.7 298.0,322.8 298.0,300.1 318.5,298.4 328.5,296.5 339.0,293.5 346.5,290.4 353.0,286.9 362.0,281.0 370.5,274.5 376.5,269.1 381.3,263.7 391.7,248.7 398.2,236.2 408.5,210.7 412.7,203.2 415.5,199.5 417.5,198.0 419.5,197.6 421.5,198.5 423.8,202.7 424.8,209.2 424.5,217.2 422.8,225.7 420.2,233.7 416.2,242.2 411.7,249.2 406.5,255.5 402.5,259.3 398.0,262.5 390.5,265.4 387.5,267.2 364.6,284.2 338.3,299.2 337.0,300.7 338.4,304.2 337.8,307.2 335.2,310.7 330.8,314.2 325.0,317.4 318.0,319.9 310.0,321.8 302.0,322.7Z"/>
<path fill="#001a4a" fill-rule="evenodd" d="M397.5,133.1 385.2,116.7 378.0,108.2 369.0,99.5 358.0,91.0 343.5,82.5 329.0,76.5 314.0,72.5 298.0,70.4 298.0,64.1 314.2,65.2 330.5,68.7 345.9,74.7 360.4,83.2 367.8,88.7 374.6,94.7 380.5,100.8 386.5,108.1 391.0,114.8 394.0,120.7 397.5,130.2 397.5,133.1ZM380.0,270.7 379.5,268.7 380.5,266.2 390.7,250.7 397.2,238.7 410.0,208.8 413.5,203.3 416.0,200.4 418.5,199.1 420.5,199.5 422.5,201.9 423.7,205.7 424.2,211.2 423.9,217.2 421.1,229.7 415.6,242.2 409.1,251.7 402.0,258.8 397.5,261.8 391.0,264.3 382.5,269.8 380.0,270.7ZM298.5,322.2 298.0,322.2 298.0,300.4 316.5,299.0 339.5,294.6 342.1,294.7 334.6,300.7 334.3,301.7 335.9,304.7 335.6,307.2 333.1,310.7 328.8,314.2 322.5,317.4 315.0,320.0 307.0,321.6 298.5,322.2Z"/>
<path fill="#000a30" fill-rule="evenodd" d="M396.0,129.8 394.0,127.9 383.2,113.7 376.4,106.2 367.5,98.0 357.5,90.4 344.0,82.5 329.5,76.4 315.0,72.5 298.0,70.1 298.0,64.3 312.8,65.2 329.9,68.7 344.5,74.2 359.4,82.7 372.8,93.2 384.5,105.8 389.0,112.1 392.0,117.5 395.5,125.9 396.0,129.8ZM385.0,267.3 383.5,267.6 383.0,267.2 382.8,265.2 383.4,263.2 396.7,240.2 409.5,210.9 415.5,202.1 418.0,200.7 420.0,200.9 421.7,202.7 423.0,206.2 423.6,211.2 423.4,216.7 420.9,228.7 416.1,240.2 410.4,249.2 403.5,256.7 398.5,260.3 392.5,262.7 385.0,267.3ZM304.0,321.2 298.0,321.6 298.0,300.6 315.0,299.6 333.0,297.2 334.7,297.2 335.4,297.7 331.8,301.7 333.5,305.2 333.2,307.7 331.6,310.2 328.9,312.7 324.1,315.7 318.0,318.3 311.0,320.2 304.0,321.2Z"/>
<path fill="#000018" fill-rule="evenodd" d="M394.0,125.9 392.0,124.2 381.9,111.7 374.0,103.5 365.0,95.6 355.0,88.5 341.5,81.0 327.5,75.5 314.0,72.0 298.0,69.8 298.0,64.7 314.8,65.7 329.3,68.7 343.0,73.7 356.1,80.7 369.7,90.7 376.5,97.1 382.5,103.7 389.5,113.8 393.5,122.5 394.0,125.9ZM387.0,265.3 385.5,265.6 384.8,264.7 385.5,260.7 397.2,239.7 408.5,214.0 415.0,203.9 417.5,202.3 419.5,202.4 421.3,204.2 422.5,207.7 422.8,217.2 420.6,228.2 416.0,239.4 410.5,248.2 404.0,255.4 399.5,258.7 393.5,261.4 387.0,265.3ZM302.5,320.7 298.0,320.9 298.0,301.0 327.5,298.8 330.7,299.2 329.2,302.7 331.0,305.2 331.0,307.7 329.6,310.2 326.9,312.7 322.0,315.7 316.0,318.1 309.5,319.8 302.5,320.7Z"/>
<path d="M297.00,70.92 A110.00,110.00 0 0 1 297.00,290.88" fill="none" stroke="#000" stroke-width="1.3" stroke-dasharray="9 5.5"/>
</g>
<path d="M300.00,34.29 A146.70,146.70 0 0 1 300.00,327.51" fill="none" stroke="#2a1a00" stroke-opacity="0.8" stroke-width="0.8"/>
<g clip-path="url(#clipC)">
<path fill="#7b5400" d="M1.20,386.59 A146.70,146.70 0 0 1 1.20,679.81 L1.20,624.55 A91.50,91.50 0 0 0 1.20,441.85 Z"/>
<path fill="#a81400" fill-rule="evenodd" d="M111.7,521.3 110.7,520.9 107.2,517.0 103.7,515.1 95.7,494.5 89.2,481.7 79.7,468.0 69.5,457.0 62.7,451.0 53.7,444.5 45.3,439.5 37.0,435.5 27.8,432.0 18.8,429.5 7.8,427.5 -0.8,426.7 -0.8,414.5 9.7,414.7 16.7,415.7 28.6,419.0 38.9,423.0 48.9,428.0 58.8,434.0 68.4,441.0 77.6,449.0 85.7,457.4 92.7,466.0 98.7,474.9 104.2,485.1 108.4,495.5 110.9,505.0 112.3,516.0 112.2,520.0 111.7,521.3ZM14.7,682.0 -0.8,682.0 -0.8,651.8 9.7,650.9 19.7,649.2 29.7,646.5 39.5,643.0 49.2,638.6 58.2,633.5 67.0,627.5 75.6,620.5 82.7,613.6 89.4,606.0 95.3,598.0 100.3,590.0 106.5,577.5 118.4,547.0 123.7,535.6 125.2,533.7 127.2,532.5 129.7,532.3 131.7,533.3 133.4,535.5 135.0,540.0 136.8,552.0 136.5,565.5 134.4,579.0 130.9,591.5 125.4,605.0 118.9,617.0 110.6,629.0 101.9,639.0 92.2,648.2 81.7,656.3 69.7,663.7 58.2,669.3 47.7,673.3 14.7,682.0Z"/>
<path fill="#c80a00" fill-rule="evenodd" d="M108.2,506.9 101.7,502.7 91.5,482.5 82.3,469.0 74.0,459.5 65.2,451.3 58.2,445.9 50.2,440.7 42.2,436.4 34.2,432.8 17.7,427.9 -0.8,425.2 -0.8,415.3 8.7,415.5 16.1,416.5 26.0,419.0 34.4,422.0 43.1,426.0 52.9,431.5 61.2,437.0 70.3,444.0 78.6,451.5 85.7,459.0 92.2,467.0 98.2,476.0 102.2,483.5 105.7,492.2 108.2,502.2 108.2,506.9ZM3.2,682.0 -0.8,682.0 -0.8,652.7 10.2,651.6 20.2,649.8 29.7,647.2 39.2,643.8 48.2,639.7 57.2,634.8 65.7,629.1 73.7,622.9 80.7,616.4 87.6,609.0 93.9,601.0 99.0,593.5 105.9,580.5 118.0,552.5 122.2,544.6 124.2,542.2 126.2,540.8 128.2,540.6 130.0,541.5 131.7,544.0 133.2,548.4 134.4,560.0 133.4,573.5 130.5,587.0 125.9,600.0 119.8,612.5 112.1,624.5 103.2,635.5 94.2,644.5 84.2,652.7 73.7,659.8 61.7,666.2 50.7,670.7 37.7,674.8 17.7,679.7 3.2,682.0Z"/>
<path fill="#cc3000" fill-rule="evenodd" d="M39.2,429.6 34.7,429.7 15.2,425.8 -0.8,423.8 -0.8,416.3 12.0,417.0 25.0,420.0 32.6,423.0 38.0,426.0 40.3,428.0 40.2,429.0 39.2,429.6ZM1.7,681.0 -0.8,681.1 -0.8,653.6 10.2,652.5 19.2,650.9 28.7,648.3 38.2,644.9 47.7,640.6 56.7,635.8 65.2,630.2 73.2,624.1 84.9,613.0 95.9,599.5 100.4,592.5 105.2,583.6 120.2,551.0 122.2,548.1 124.2,546.3 126.2,546.0 127.7,546.8 129.6,549.5 131.0,553.5 132.2,564.0 131.2,576.4 128.2,589.4 123.7,601.6 117.2,614.4 109.7,625.7 100.6,636.5 91.3,645.5 81.2,653.5 70.1,660.5 59.3,666.0 46.2,671.0 26.2,676.8 13.2,679.7 1.7,681.0Z"/>
<path fill="#d84800" fill-rule="evenodd" d="M13.7,421.6 8.7,422.0 -0.8,421.2 -0.8,418.4 9.7,419.0 14.0,420.5 14.4,421.0 13.7,421.6ZM4.2,680.0 -0.8,680.3 -0.8,654.3 20.2,651.8 27.7,649.9 36.2,646.8 47.2,641.9 56.7,636.7 65.2,631.2 73.7,624.7 85.6,613.5 95.4,602.0 104.2,587.1 119.7,554.4 123.2,550.1 124.7,549.6 126.2,550.3 127.7,552.7 128.8,556.5 129.4,567.5 128.2,580.6 125.2,592.6 120.7,604.2 114.7,615.5 107.2,626.5 99.2,635.9 90.3,644.5 80.9,652.0 70.8,658.5 60.2,664.0 49.1,668.5 26.7,675.8 14.7,678.6 4.2,680.0Z"/>
<path fill="#dc5c00" fill-rule="evenodd" d="M-0.3,679.5 -0.8,679.5 -0.8,655.0 27.2,652.2 35.2,650.7 41.2,648.6 52.7,642.8 64.2,635.7 75.7,627.2 86.2,617.9 91.2,611.9 98.7,599.1 119.2,557.5 122.7,553.3 124.2,552.9 125.2,553.4 126.5,555.5 127.3,559.0 127.4,568.0 125.5,579.0 121.9,590.0 113.7,608.2 109.2,616.5 102.2,626.7 93.2,636.8 82.2,646.5 71.3,654.0 62.2,659.0 36.9,671.0 28.1,674.5 18.7,677.1 9.2,678.8 -0.3,679.5Z"/>
<path fill="#e07000" fill-rule="evenodd" d="M100.2,612.1 97.7,612.1 96.7,610.5 97.0,607.0 98.7,602.0 117.7,562.4 121.2,557.3 122.7,556.2 123.7,556.2 124.7,557.0 125.7,559.5 126.1,567.5 124.5,577.0 121.4,586.5 116.8,595.5 111.5,603.0 105.7,608.9 100.2,612.1ZM6.2,678.5 -0.8,678.8 -0.8,655.7 18.7,654.6 27.7,654.7 35.2,656.6 37.7,658.1 39.4,660.0 40.0,662.5 39.2,665.5 36.8,668.5 33.2,671.0 28.0,673.5 20.7,675.9 6.2,678.5Z"/>
<path fill="#e48400" fill-rule="evenodd" d="M103.2,607.6 100.7,607.6 99.8,605.5 100.5,601.5 102.7,595.7 117.2,565.8 120.7,560.8 122.2,559.8 123.2,560.0 124.2,561.4 124.7,563.4 124.7,570.0 123.3,577.5 120.6,585.5 116.8,593.0 112.7,599.2 107.7,604.6 103.2,607.6ZM4.2,678.0 -0.8,678.2 -0.8,656.3 15.2,655.7 24.2,656.2 31.2,658.1 33.5,659.5 35.2,661.5 35.7,664.0 34.6,667.0 32.4,669.5 28.6,672.0 24.2,674.0 17.7,676.0 4.2,678.0Z"/>
<path fill="#e89800" fill-rule="evenodd" d="M105.2,603.5 103.2,603.1 102.8,601.0 103.7,597.0 105.7,591.7 116.2,570.7 119.7,565.7 121.7,564.7 123.0,567.0 123.0,572.0 121.7,578.8 119.2,585.7 115.7,592.5 112.2,597.5 108.2,601.7 105.2,603.5ZM0.2,677.5 -0.8,677.5 -0.8,657.0 13.2,656.7 22.2,657.5 28.8,659.5 31.0,661.0 32.1,662.5 32.4,665.0 31.0,668.0 28.4,670.5 24.1,673.0 13.2,676.3 0.2,677.5Z"/>
<path fill="#ebab00" fill-rule="evenodd" d="M109.2,596.6 107.7,596.7 107.3,595.0 109.7,588.0 115.7,578.4 118.2,575.6 119.2,575.5 119.2,579.7 116.7,586.7 113.2,592.6 109.2,596.6ZM6.2,676.5 -0.8,676.8 -0.8,657.8 11.2,657.6 19.7,658.4 25.7,660.2 29.0,663.0 29.5,665.0 28.7,667.5 27.1,669.5 24.4,671.5 16.7,674.7 6.2,676.5Z"/>
<path fill="#f0c000" fill-rule="evenodd" d="M7.7,675.6 -0.8,676.0 -0.8,658.7 9.2,658.6 17.2,659.4 22.6,661.0 25.9,663.5 26.4,665.0 26.1,667.0 24.8,669.0 22.4,671.0 15.7,674.0 7.7,675.6Z"/>
<path fill="#f8da00" fill-rule="evenodd" d="M7.7,674.5 -0.8,674.9 -0.8,659.7 7.7,659.7 14.5,660.5 19.6,662.0 22.3,664.0 23.0,665.5 22.9,667.0 21.7,669.0 19.9,670.5 14.7,673.0 7.7,674.5Z"/>
<path fill="#4a6a00" fill-rule="evenodd" d="M126.7,525.0 123.7,524.0 121.2,520.5 106.4,487.5 97.2,471.2 86.2,456.8 73.3,444.0 65.2,437.5 55.6,431.0 45.8,425.5 35.7,420.9 25.7,417.3 15.2,414.4 9.7,413.9 -0.8,413.9 -0.8,384.5 20.6,384.5 28.2,385.3 39.7,387.7 51.2,391.8 66.2,399.8 82.2,410.2 94.2,419.8 105.0,430.5 115.0,443.0 122.9,456.0 129.0,469.5 133.4,484.5 135.6,500.0 135.6,507.5 134.9,514.0 133.7,519.0 132.2,521.9 129.7,524.0 126.7,525.0ZM6.2,650.5 -0.8,650.8 -0.8,639.4 10.8,638.0 21.8,635.5 32.3,632.0 43.3,627.0 52.7,621.5 61.7,615.0 70.6,607.0 78.2,598.6 87.7,584.9 94.7,570.9 98.2,561.4 100.7,552.2 104.5,528.0 105.7,526.4 108.2,527.4 110.2,529.9 111.7,533.0 112.9,540.0 112.5,551.5 110.3,563.5 106.7,575.0 101.7,586.1 95.7,596.4 88.2,606.5 80.2,615.3 71.1,623.5 61.7,630.5 50.9,637.0 40.4,642.0 29.4,646.0 17.5,649.0 6.2,650.5Z"/>
<path fill="#008000" fill-rule="evenodd" d="M126.2,520.5 123.7,519.6 121.0,516.0 108.2,488.7 96.9,469.5 85.7,455.2 72.7,442.5 63.7,435.5 54.2,429.3 43.7,423.7 33.2,419.2 16.7,413.6 11.2,413.2 -0.8,413.4 -0.8,384.5 11.6,384.5 24.2,388.0 40.7,391.2 54.7,396.2 67.7,402.8 80.2,410.6 92.2,420.0 102.2,429.6 111.3,440.5 119.5,453.0 125.8,466.0 130.3,479.5 132.8,493.0 132.9,505.5 132.0,511.0 130.4,516.0 128.2,519.4 126.2,520.5ZM7.7,649.5 -0.8,649.8 -0.8,640.8 10.2,639.4 20.2,637.2 31.2,633.6 41.2,629.3 50.7,624.1 59.7,617.9 68.2,610.8 75.9,603.0 85.5,590.5 93.3,577.0 99.9,560.5 105.2,538.8 106.2,537.2 107.7,537.8 110.4,542.0 111.0,549.0 109.7,560.5 106.7,572.2 102.7,582.4 98.2,591.1 91.7,600.9 84.7,609.5 76.9,617.5 68.7,624.5 59.6,631.0 49.4,637.0 38.6,642.0 28.7,645.5 18.7,648.0 7.7,649.5Z"/>
<path fill="#0a8a28" fill-rule="evenodd" d="M126.2,517.3 125.2,517.4 123.7,516.8 120.7,513.0 107.2,484.8 96.4,467.5 84.7,453.0 71.7,440.7 61.7,433.2 51.2,426.8 40.2,421.3 23.7,414.3 16.2,412.7 -0.8,412.9 -0.8,384.5 9.7,384.8 25.2,389.5 41.7,392.8 55.7,397.9 67.7,404.0 79.5,411.5 90.5,420.0 100.2,429.2 109.7,440.4 117.2,451.7 123.2,463.5 127.7,476.0 130.3,488.0 130.8,500.0 129.3,512.0 127.9,515.5 126.2,517.3ZM7.7,648.0 -0.8,647.9 -0.8,642.8 9.7,641.2 20.2,638.7 29.7,635.7 38.2,632.2 46.2,628.2 55.2,622.7 63.2,616.8 70.7,610.2 80.9,599.0 89.4,587.0 97.0,572.5 104.2,553.9 105.2,552.7 106.2,553.2 107.7,556.9 107.2,563.6 104.7,573.6 100.7,583.8 96.7,591.4 90.7,600.5 84.2,608.4 77.8,615.0 69.3,622.5 61.2,628.5 52.4,634.0 43.8,638.5 34.2,642.5 24.5,645.5 17.3,647.0 7.7,648.0Z"/>
<path fill="#0f8a3c" fill-rule="evenodd" d="M125.7,514.7 124.7,514.9 123.2,514.1 120.2,510.2 106.2,481.3 97.5,467.0 85.0,452.0 71.2,439.2 61.7,432.2 51.2,425.7 37.7,418.7 25.2,413.1 18.2,412.0 -0.8,412.5 -0.8,384.5 5.3,384.5 11.2,385.7 25.8,390.5 43.2,394.2 55.7,398.9 66.7,404.5 77.5,411.5 88.4,420.0 98.0,429.0 106.7,439.0 113.7,449.0 119.7,459.9 124.2,471.2 127.2,483.5 129.0,499.5 128.4,509.5 127.2,513.0 125.7,514.7Z"/>
<path fill="#108c58" fill-rule="evenodd" d="M124.7,512.6 122.2,511.2 119.7,507.7 101.7,471.2 91.2,453.3 84.7,443.6 74.2,435.7 59.2,426.2 45.2,418.9 29.7,412.0 24.2,411.0 -0.8,412.1 -0.8,384.5 4.2,384.8 11.2,386.2 26.2,391.3 41.2,394.5 52.8,398.5 62.0,403.0 70.2,408.0 78.2,414.0 86.3,421.5 92.1,428.0 97.6,435.5 103.8,446.5 115.5,462.5 121.9,475.0 125.9,487.0 127.9,498.5 128.0,504.0 127.4,508.5 126.2,511.5 124.7,512.6Z"/>
<path fill="#0a7868" fill-rule="evenodd" d="M70.7,419.5 65.7,419.3 58.7,417.8 30.6,409.0 15.2,410.9 -0.8,411.7 -0.8,384.7 5.2,385.4 11.7,386.8 27.7,392.5 44.2,396.2 55.0,400.5 65.4,406.5 72.4,412.5 74.0,415.0 74.4,417.0 73.2,418.8 70.7,419.5ZM124.7,510.2 123.7,510.3 122.2,509.4 118.7,504.3 99.4,464.5 95.6,454.5 95.5,451.5 96.7,450.2 98.7,450.3 101.7,451.7 108.7,457.6 115.3,466.0 120.9,476.0 124.8,486.5 126.8,496.5 126.9,505.5 126.1,508.5 124.7,510.2Z"/>
<path fill="#0a6066" fill-rule="evenodd" d="M63.7,414.1 59.7,414.2 54.2,413.3 31.7,407.0 16.7,410.3 -0.8,411.3 -0.8,385.1 5.7,385.9 11.7,387.3 28.7,393.5 42.1,396.5 51.6,400.0 58.9,404.0 64.4,408.5 65.8,410.5 66.1,412.0 65.3,413.5 63.7,414.1ZM123.7,508.1 121.2,506.5 117.7,501.0 102.0,468.0 98.1,457.5 98.0,455.0 99.2,453.5 101.2,453.7 103.7,455.0 109.7,460.3 115.6,468.0 120.5,477.0 124.1,486.5 126.1,496.5 126.0,504.5 125.2,506.9 123.7,508.1Z"/>
<path fill="#0a4a66" fill-rule="evenodd" d="M10.2,410.5 -0.8,411.0 -0.8,385.5 5.7,386.3 11.7,387.7 30.2,394.8 40.1,397.0 46.3,399.0 55.8,404.0 58.5,406.5 59.4,408.5 59.1,409.5 57.7,410.2 53.2,410.3 32.2,405.2 19.7,409.2 10.2,410.5ZM123.2,505.6 120.7,504.0 117.7,499.4 105.7,474.6 100.6,462.0 100.0,458.5 100.7,456.4 102.2,456.2 104.2,457.0 109.7,461.7 115.2,468.8 120.0,477.5 123.4,486.5 125.2,495.2 125.2,502.5 124.2,505.0 123.2,505.6Z"/>
<path fill="#062e60" fill-rule="evenodd" d="M3.7,410.5 -0.8,410.6 -0.8,385.9 5.7,386.7 12.7,388.4 20.7,391.3 32.2,396.6 43.6,399.5 49.7,402.5 51.5,404.0 52.3,405.5 51.2,406.7 47.7,406.7 32.7,403.3 18.7,408.9 12.2,410.0 3.7,410.5ZM122.7,502.7 120.7,501.8 117.7,497.6 108.7,479.6 102.7,464.9 102.0,461.0 102.7,459.0 104.2,459.0 106.2,460.0 110.7,464.2 115.7,470.9 119.7,478.5 122.7,486.7 124.2,493.8 124.3,500.0 123.7,501.8 122.7,502.7Z"/>
<path fill="#001a4a" fill-rule="evenodd" d="M6.7,410.0 -0.8,410.2 -0.8,386.3 8.7,387.7 18.7,390.9 27.0,395.0 30.6,397.5 32.4,399.5 32.2,400.5 30.1,402.5 22.2,407.1 15.7,409.0 6.7,410.0ZM122.2,498.6 120.7,498.6 118.2,495.9 111.7,484.1 105.2,468.8 104.2,464.5 104.7,462.3 105.7,462.1 107.2,462.8 110.7,465.8 114.7,471.0 118.2,477.2 121.2,484.6 122.7,490.5 123.1,495.5 122.2,498.6Z"/>
<path fill="#000a30" fill-rule="evenodd" d="M8.7,409.5 -0.8,409.8 -0.8,386.8 8.2,388.0 18.0,391.0 25.9,395.0 29.4,398.5 29.7,400.0 28.7,402.0 23.2,406.0 16.7,408.4 8.7,409.5ZM119.7,491.3 118.2,490.6 116.2,488.4 111.2,479.7 107.7,470.5 107.6,468.0 108.2,467.3 109.7,467.8 112.2,470.2 117.2,478.1 120.2,486.9 120.4,490.0 119.7,491.3Z"/>
<path fill="#000018" fill-rule="evenodd" d="M9.7,409.0 -0.8,409.4 -0.8,387.3 8.2,388.5 16.9,391.0 24.1,394.5 27.8,398.0 28.2,399.5 27.6,401.5 23.6,405.0 17.7,407.6 9.7,409.0Z"/>
<path d="M-1.80,423.22 A110.00,110.00 0 0 1 -1.80,643.18" fill="none" stroke="#000" stroke-width="1.3" stroke-dasharray="9 5.5"/>
</g>
<path d="M1.20,386.59 A146.70,146.70 0 0 1 1.20,679.81" fill="none" stroke="#2a1a00" stroke-opacity="0.8" stroke-width="0.8"/>
<g clip-path="url(#clipD)">
<path fill="#7b5400" d="M300.00,386.59 A146.70,146.70 0 0 1 300.00,679.81 L300.00,624.55 A91.50,91.50 0 0 0 300.00,441.85 Z"/>
<path fill="#a81400" fill-rule="evenodd" d="M373.0,424.1 365.5,423.1 346.0,417.7 321.5,411.8 310.0,409.7 298.0,408.2 298.0,384.5 309.7,384.5 314.5,385.2 324.0,387.7 332.0,391.2 360.5,408.2 371.4,420.5 373.1,423.0 373.0,424.1ZM426.0,498.0 424.5,496.7 422.5,492.0 421.5,487.5 422.0,485.8 423.5,487.4 425.5,492.0 426.3,496.0 426.0,498.0ZM417.5,515.7 416.5,515.3 415.1,513.0 412.7,505.5 409.6,491.0 409.4,487.5 410.0,486.1 411.5,486.7 414.0,490.0 416.1,494.5 417.9,500.0 418.9,505.5 419.2,510.5 418.5,514.5 417.5,515.7ZM367.0,669.6 361.0,669.6 352.9,666.5 344.0,665.0 342.7,664.0 344.8,662.0 358.4,653.0 364.3,647.5 365.8,645.0 366.0,643.4 365.0,642.0 362.0,639.8 359.5,639.2 356.5,639.5 328.5,647.5 320.0,649.0 312.0,649.7 307.9,649.5 305.8,648.5 305.9,646.5 307.4,641.0 315.1,630.0 325.0,619.0 333.5,615.7 343.5,610.2 352.5,603.6 361.6,595.0 367.1,588.5 371.7,582.0 377.7,571.0 381.0,562.9 386.5,556.8 392.8,544.0 395.0,541.2 396.0,540.9 397.0,541.3 400.0,545.3 403.0,546.8 403.4,548.0 400.1,570.0 400.0,575.6 400.8,580.0 403.0,583.2 405.5,583.4 408.0,582.6 409.5,584.7 411.0,583.8 413.0,581.3 416.8,573.5 420.3,563.5 423.5,550.1 426.5,548.1 432.0,540.5 433.5,539.6 435.0,539.6 436.5,541.0 437.6,543.5 438.6,551.5 438.2,559.0 436.1,573.0 435.6,588.5 434.3,596.5 432.1,604.5 429.2,612.5 425.7,620.0 420.7,628.5 414.9,636.5 408.0,644.3 400.5,651.3 392.0,657.8 383.0,663.3 374.5,667.3 367.0,669.6Z"/>
<path fill="#c80a00" fill-rule="evenodd" d="M369.0,421.2 366.5,421.1 362.5,420.0 346.0,413.2 331.5,412.5 298.0,406.6 298.0,384.5 306.0,384.7 314.0,385.8 322.0,387.8 329.5,390.8 334.5,394.0 336.3,396.5 336.1,397.5 335.0,398.3 329.9,399.5 329.8,400.0 330.9,401.0 339.0,404.8 349.0,406.0 357.0,409.1 361.5,412.0 365.9,416.0 368.9,419.5 369.4,420.5 369.0,421.2ZM425.0,494.6 423.5,492.5 423.0,488.7 424.5,491.2 425.0,494.6ZM416.5,508.1 415.0,505.9 413.0,499.5 411.9,494.0 412.0,492.2 412.5,491.7 414.5,494.1 416.7,500.0 417.4,506.0 417.0,507.9 416.5,508.1ZM365.0,662.0 352.5,662.0 351.0,661.6 350.9,661.0 364.2,650.5 370.6,644.0 372.4,641.0 372.9,639.0 372.0,637.0 370.0,635.8 366.6,635.0 362.5,635.5 336.7,644.0 323.5,646.7 320.5,646.7 319.2,646.0 317.8,641.0 318.0,639.5 332.3,622.0 340.4,613.0 342.3,611.0 352.5,603.9 361.9,595.0 368.9,586.5 372.5,580.8 380.5,572.8 384.5,566.7 391.7,551.5 394.0,548.1 395.5,547.6 396.5,548.5 398.9,556.5 399.2,561.0 397.7,574.5 397.7,580.5 399.1,585.5 400.5,587.0 402.0,587.7 407.0,587.1 408.5,587.6 411.0,585.7 418.2,574.5 427.0,557.6 428.5,555.6 430.0,555.3 433.0,559.5 433.7,561.5 433.7,565.5 432.8,571.5 424.4,605.5 420.9,614.5 416.0,623.6 411.0,631.0 405.5,637.6 399.1,644.0 392.5,649.5 385.0,654.5 378.0,658.2 371.0,660.9 365.0,662.0Z"/>
<path fill="#cc3000" fill-rule="evenodd" d="M330.5,397.0 309.5,396.8 298.0,395.9 298.0,384.9 311.5,385.8 323.5,388.8 329.5,391.5 332.8,394.0 333.4,395.0 333.3,396.0 330.5,397.0ZM333.0,410.1 329.0,410.4 322.0,409.6 302.1,405.5 298.0,403.9 298.0,399.2 302.0,398.3 307.0,398.4 321.0,401.3 327.5,403.7 332.6,406.5 334.4,408.5 334.2,409.5 333.0,410.1ZM368.5,652.5 367.3,652.5 367.5,651.5 375.2,642.5 378.5,637.0 379.0,633.5 378.0,632.0 376.5,631.2 373.0,630.7 368.0,631.4 341.0,640.0 328.0,639.9 325.5,639.0 325.1,638.0 327.2,635.5 340.0,626.0 360.1,606.5 370.0,595.7 377.5,584.3 391.1,555.5 393.0,552.5 394.5,551.5 396.0,553.5 396.8,559.5 396.5,568.5 394.0,585.0 394.4,588.0 396.1,591.0 399.0,592.5 402.5,592.5 407.5,591.3 412.5,588.0 414.0,587.9 414.9,591.0 415.0,598.2 421.5,587.6 429.0,571.7 430.0,570.1 431.0,569.5 431.1,574.0 429.2,583.0 425.8,593.5 420.2,605.5 413.8,616.0 405.8,626.5 397.5,635.1 387.0,643.8 377.0,649.8 368.5,652.5Z"/>
<path fill="#d84800" fill-rule="evenodd" d="M326.5,396.5 298.0,395.1 298.0,385.2 312.0,386.2 324.0,389.4 329.2,392.0 331.6,394.5 330.5,395.9 326.5,396.5ZM326.5,408.0 321.0,408.0 312.7,406.5 306.9,404.5 305.8,403.0 307.5,402.1 310.5,401.8 319.0,402.9 323.9,404.5 326.6,406.0 327.5,407.0 326.5,408.0ZM335.5,637.0 331.5,637.1 330.7,636.0 333.3,633.5 344.6,626.0 349.5,622.0 366.0,604.4 374.0,594.6 379.0,586.0 391.0,558.0 393.0,555.1 394.4,555.0 395.4,559.0 395.1,566.0 393.8,575.0 391.7,582.0 385.8,594.0 373.6,612.0 366.2,620.5 357.0,627.8 346.0,633.8 335.5,637.0ZM382.0,645.1 380.3,645.0 381.4,643.0 397.5,625.0 409.0,610.0 416.5,598.1 428.0,576.4 429.5,574.8 429.7,577.0 429.0,581.5 425.7,592.5 420.8,603.5 414.2,614.5 406.6,624.5 399.0,632.6 390.0,640.2 382.0,645.1ZM388.5,628.1 385.5,625.9 383.5,625.2 374.5,625.2 373.6,624.5 377.8,620.0 388.0,612.0 393.5,609.0 397.0,608.8 398.1,610.0 398.4,612.0 396.9,617.5 392.5,624.8 390.0,627.4 388.5,628.1Z"/>
<path fill="#dc5c00" fill-rule="evenodd" d="M325.0,396.0 298.0,394.6 298.0,385.5 311.0,386.3 323.0,389.4 328.1,392.0 330.0,394.0 329.0,395.4 325.0,396.0ZM338.5,635.0 336.0,635.2 335.2,634.5 337.7,632.0 349.5,624.0 354.3,620.0 375.5,594.3 380.5,585.8 390.0,561.8 392.0,558.4 393.5,557.8 394.2,560.0 394.1,565.0 391.2,579.5 387.3,589.0 381.2,599.0 368.6,616.0 362.0,622.7 356.0,627.2 350.0,630.8 343.5,633.6 338.5,635.0ZM385.5,642.1 384.1,642.0 385.3,640.0 399.0,624.0 409.5,610.0 417.0,598.0 426.5,580.8 428.0,578.8 428.4,579.0 427.5,585.5 424.1,595.5 419.6,605.0 413.8,614.5 407.4,623.0 400.0,631.1 392.0,638.0 385.5,642.1Z"/>
<path fill="#e07000" fill-rule="evenodd" d="M324.5,395.5 314.5,395.4 298.0,394.3 298.0,385.8 310.0,386.4 321.5,389.2 326.3,391.5 328.5,393.5 328.3,394.5 327.5,395.0 324.5,395.5ZM342.0,633.1 339.4,633.0 341.0,631.0 353.1,622.5 358.6,618.0 363.5,610.5 377.0,593.5 382.2,584.5 389.5,564.7 391.5,561.3 392.5,560.7 393.2,562.5 392.9,566.5 389.6,581.0 386.1,589.5 381.3,597.5 370.3,611.0 365.9,617.5 361.6,622.0 352.0,628.8 346.5,631.5 342.0,633.1ZM388.5,639.6 387.5,639.9 387.1,639.5 408.1,612.5 415.6,601.0 425.0,584.6 427.0,582.2 427.2,584.0 426.5,587.5 423.6,596.0 419.5,604.5 414.1,613.5 408.3,621.5 401.5,629.1 394.5,635.5 388.5,639.6Z"/>
<path fill="#e48400" fill-rule="evenodd" d="M324.5,395.0 315.0,395.1 298.0,394.0 298.0,386.1 309.0,386.6 319.8,389.0 324.5,391.0 327.0,393.0 327.0,394.1 324.5,395.0ZM366.5,611.7 365.2,611.5 366.1,609.0 378.2,593.0 383.2,585.0 384.8,581.5 388.5,569.0 390.5,565.1 391.5,564.4 391.5,568.6 388.0,582.4 384.5,591.0 380.8,597.0 376.0,603.1 370.5,608.7 366.5,611.7ZM390.0,637.6 389.8,637.0 391.0,635.0 408.1,613.0 424.0,587.4 425.5,585.5 426.0,585.8 425.0,591.0 421.5,599.9 417.5,607.6 412.5,615.4 407.0,622.6 400.5,629.6 394.5,634.9 390.0,637.6ZM345.0,631.0 343.7,631.0 343.8,630.5 346.0,628.5 360.5,618.5 363.5,617.3 363.3,618.5 361.8,620.5 356.7,625.0 350.2,629.0 345.0,631.0Z"/>
<path fill="#e89800" fill-rule="evenodd" d="M323.5,394.6 314.5,394.8 298.0,393.7 298.0,386.4 309.0,386.9 318.6,389.0 322.5,390.5 325.4,392.5 325.5,393.8 323.5,394.6ZM370.0,607.2 369.5,607.2 369.4,606.5 370.9,604.0 383.0,587.7 385.0,585.7 385.0,587.4 384.0,590.0 380.0,596.9 374.5,603.6 370.0,607.2ZM393.5,634.7 392.6,634.5 393.4,633.0 408.1,613.5 424.0,589.2 424.4,590.0 424.0,592.2 421.5,599.0 418.0,606.0 413.5,613.4 403.5,626.0 398.0,631.4 393.5,634.7ZM350.5,627.6 349.5,627.5 355.1,623.5 357.6,622.5 355.0,625.0 350.5,627.6Z"/>
<path fill="#ebab00" fill-rule="evenodd" d="M318.5,394.5 298.0,393.3 298.0,386.8 306.0,386.9 313.5,388.0 320.2,390.0 324.1,392.5 324.0,393.5 323.0,394.0 318.5,394.5ZM375.5,600.6 375.0,600.5 376.0,598.9 380.0,594.0 379.0,596.5 375.5,600.6ZM397.0,631.1 396.2,631.0 397.5,628.6 409.3,612.5 420.0,596.3 422.0,594.5 419.5,602.0 413.0,613.4 405.0,623.7 397.0,631.1Z"/>
<path fill="#f0c000" fill-rule="evenodd" d="M319.0,394.0 310.7,394.0 298.0,393.0 298.0,387.2 306.0,387.3 313.8,388.5 319.9,390.5 322.5,392.5 321.7,393.5 319.0,394.0ZM405.5,620.7 405.5,619.9 408.5,615.8 408.0,617.5 405.5,620.7Z"/>
<path fill="#f8da00" fill-rule="evenodd" d="M317.5,393.5 308.3,393.5 298.0,392.5 298.0,387.9 307.5,388.0 315.3,389.5 319.1,391.0 320.3,392.0 319.8,393.0 317.5,393.5Z"/>
<path fill="#4a6a00" fill-rule="evenodd" d="M424.5,533.6 421.5,532.9 419.9,530.0 421.2,513.0 420.5,505.5 418.9,498.5 415.0,488.4 410.0,481.2 407.5,479.4 405.5,479.6 404.4,481.5 404.1,485.0 405.5,495.5 411.6,523.5 411.6,526.5 410.5,527.4 407.5,525.3 402.5,518.5 395.5,511.1 382.0,488.0 375.5,478.4 367.5,469.1 358.4,460.0 349.2,452.0 339.4,444.5 314.6,428.5 307.4,425.0 298.0,423.3 298.0,409.4 308.5,410.3 320.0,412.3 333.0,415.8 356.5,423.8 373.5,426.5 376.2,426.5 375.6,424.5 368.2,415.0 366.8,410.5 365.5,409.0 357.0,402.7 341.5,393.5 339.0,391.5 340.0,390.9 343.5,391.1 350.5,392.4 359.0,394.8 367.0,397.8 375.5,401.8 390.0,410.7 404.0,422.5 415.8,436.0 425.1,450.5 432.3,466.5 434.8,474.5 436.9,483.5 438.2,492.5 438.7,500.5 438.4,507.5 437.3,513.5 434.8,521.5 432.0,527.3 428.5,531.6 424.5,533.6ZM427.1,501.0 427.3,497.5 426.0,492.0 423.5,486.2 421.0,483.4 420.4,484.0 420.4,486.0 422.3,493.5 425.0,499.7 426.0,501.0 427.1,501.0ZM411.5,580.5 410.5,580.7 410.4,579.5 412.0,572.5 412.0,570.3 410.5,570.7 406.0,577.7 405.0,578.3 404.5,578.0 405.1,569.0 403.9,566.0 403.8,561.5 405.3,554.0 408.0,547.2 411.5,542.7 414.5,541.6 416.5,542.6 418.4,546.0 419.3,550.5 419.3,555.5 417.8,566.5 416.5,571.6 414.0,577.5 411.5,580.5ZM343.5,682.0 298.0,682.0 298.0,652.2 318.5,650.5 329.0,648.6 347.5,644.2 350.5,643.9 352.5,644.5 357.0,648.7 357.2,650.0 356.3,651.5 351.1,656.0 339.0,663.5 336.6,665.5 337.5,666.6 347.3,668.5 349.7,670.0 350.8,671.5 351.0,674.0 349.6,677.0 347.0,679.7 343.5,682.0Z"/>
<path fill="#008000" fill-rule="evenodd" d="M426.5,513.5 425.5,513.7 424.5,512.0 420.8,497.5 416.8,487.5 412.5,480.2 408.0,475.3 405.0,473.3 402.0,472.3 400.0,472.5 398.8,474.0 398.9,480.0 402.7,497.0 403.7,504.0 403.0,507.1 401.0,508.3 399.0,508.5 396.5,507.1 393.5,503.5 373.5,470.6 369.0,464.5 364.2,459.5 353.5,450.0 340.6,440.0 336.2,435.5 327.0,429.0 321.6,426.5 315.1,424.5 298.0,421.5 298.0,410.5 310.9,411.5 325.3,414.5 335.5,417.8 353.0,425.2 359.5,427.3 378.9,429.0 379.0,428.0 378.1,426.5 370.5,416.5 370.0,415.0 370.3,414.0 373.0,412.5 366.7,405.5 366.2,404.5 367.0,404.2 371.0,405.5 378.0,409.0 392.1,418.5 404.5,430.1 415.0,443.5 422.4,456.5 431.7,477.5 434.7,487.5 435.8,496.0 435.3,502.5 434.5,504.4 433.0,505.7 431.0,505.6 430.0,504.3 426.9,493.0 423.5,485.2 420.5,481.2 419.5,480.7 419.0,481.5 419.3,486.0 421.3,494.0 427.5,509.0 427.5,511.5 426.5,513.5ZM407.0,572.6 406.6,571.5 407.0,568.0 409.8,554.0 411.5,549.0 413.0,547.8 413.8,549.0 414.1,551.5 412.8,559.5 410.0,567.9 408.5,571.0 407.0,572.6ZM337.5,682.0 298.0,682.0 298.0,653.8 333.5,649.8 336.5,649.8 338.5,650.4 340.7,653.0 344.0,655.1 344.5,656.5 342.2,659.0 332.1,665.5 330.9,667.0 332.5,667.9 343.0,669.7 345.4,671.5 346.0,673.5 345.3,675.5 343.8,677.5 337.5,682.0Z"/>
<path fill="#0a8a28" fill-rule="evenodd" d="M398.5,503.0 396.0,502.4 392.5,498.6 377.5,474.1 370.0,464.5 362.0,456.5 345.9,443.0 343.8,440.5 344.1,440.0 346.0,440.1 353.1,442.5 345.0,437.0 327.2,426.5 314.5,422.8 298.0,419.6 298.0,411.8 311.2,412.5 327.2,416.0 339.2,420.5 356.0,429.2 360.5,431.0 364.5,431.2 372.5,430.0 381.5,431.5 381.8,431.0 381.1,429.5 372.2,417.5 372.0,416.2 372.5,415.5 375.0,415.5 380.0,417.1 385.0,419.8 396.5,428.8 403.2,435.5 410.2,444.0 426.7,470.0 429.8,476.0 432.3,482.5 433.8,488.5 434.5,494.5 434.0,499.2 433.0,500.5 432.0,500.5 429.5,497.6 423.0,483.4 417.5,476.5 416.0,475.7 414.5,476.4 408.5,471.6 403.5,468.9 398.0,466.9 394.5,466.6 392.4,468.0 392.2,471.0 398.3,486.0 400.9,496.5 400.7,500.5 398.5,503.0ZM333.5,682.0 298.0,682.0 298.0,655.3 316.0,654.0 320.0,654.2 322.6,655.0 325.6,658.0 330.9,661.5 330.3,663.0 325.2,667.0 324.8,668.0 327.5,668.9 338.5,670.4 341.0,671.5 342.2,673.0 342.1,675.0 340.4,677.5 337.0,680.2 333.5,682.0Z"/>
<path fill="#0f8a3c" fill-rule="evenodd" d="M345.0,428.1 337.5,427.1 313.0,420.5 307.3,418.0 305.0,415.0 307.4,414.0 313.0,414.2 320.8,415.5 328.1,417.5 335.9,420.5 341.7,423.5 345.5,426.5 345.8,427.5 345.0,428.1ZM432.5,497.5 431.5,497.5 430.0,496.1 422.0,480.8 407.5,461.1 406.2,460.5 406.0,464.0 405.1,465.0 404.0,465.2 399.5,464.1 394.5,461.6 386.0,454.5 371.7,439.0 370.2,436.5 370.0,435.0 370.7,433.5 372.3,432.5 376.5,432.1 384.6,434.0 383.1,431.0 374.6,420.0 373.7,418.0 374.1,417.0 376.5,417.0 381.0,418.7 391.0,425.2 401.2,434.5 410.8,446.0 426.8,472.0 429.9,478.0 432.2,484.5 433.3,490.0 433.5,495.0 432.5,497.5ZM396.5,496.5 394.5,495.8 391.0,492.0 377.0,472.5 369.5,463.5 360.7,455.0 347.9,444.0 346.3,442.0 347.5,441.5 351.0,442.7 361.6,448.5 353.5,442.0 337.5,431.5 335.5,429.3 338.0,429.1 343.5,430.8 357.5,437.8 370.0,446.8 379.9,456.5 389.3,469.0 395.9,481.5 398.3,488.5 399.5,494.5 399.0,496.2 396.5,496.5ZM330.5,682.0 298.0,682.0 298.0,671.2 304.0,669.5 302.8,668.5 298.0,667.1 298.0,657.8 305.5,657.5 309.2,658.5 312.6,661.5 317.8,665.0 317.6,666.0 314.9,668.5 315.5,669.0 333.0,670.7 336.5,671.5 338.3,672.5 339.3,674.5 338.1,677.0 334.6,680.0 330.5,682.0Z"/>
<path fill="#108c58" fill-rule="evenodd" d="M432.0,495.2 431.0,495.2 429.5,493.7 420.5,477.5 409.0,461.5 402.0,453.2 400.7,452.5 401.8,457.5 401.4,460.0 399.5,460.7 396.5,459.8 392.5,457.3 388.0,453.5 376.3,441.0 374.1,436.5 374.7,435.0 376.0,434.2 380.5,434.5 388.1,437.5 386.5,434.5 376.7,422.0 375.4,419.5 375.5,418.4 377.5,418.2 381.5,419.7 391.5,426.3 401.0,435.0 409.9,445.5 415.2,453.5 429.3,478.0 432.5,488.5 432.8,493.0 432.0,495.2ZM398.0,492.6 397.0,492.3 395.9,491.0 388.0,479.2 387.5,478.8 388.7,484.0 388.6,485.0 388.0,485.2 385.5,482.9 369.5,463.2 361.5,455.4 350.3,445.5 348.3,443.0 351.0,443.2 357.0,446.2 363.0,450.2 370.0,456.0 368.8,454.5 358.1,445.0 340.9,433.0 339.1,431.0 341.5,431.0 346.5,432.7 357.5,438.3 367.5,445.2 377.1,454.0 384.7,463.0 391.8,474.0 396.7,485.0 398.1,490.0 398.0,492.6ZM328.5,682.0 298.0,682.0 298.0,672.4 310.0,671.2 321.5,671.0 330.8,671.5 335.4,673.0 336.6,675.0 335.7,677.0 333.0,679.5 328.5,682.0Z"/>
<path fill="#0a7868" fill-rule="evenodd" d="M431.5,493.2 430.5,493.2 429.0,491.6 421.5,478.0 408.5,460.1 379.5,425.0 377.0,421.0 377.2,419.5 379.2,419.5 383.0,421.1 392.0,427.2 401.0,435.5 409.8,446.0 414.7,453.5 428.7,478.0 431.7,487.0 432.1,491.0 431.5,493.2ZM397.0,489.7 396.5,489.8 395.0,488.2 381.5,468.5 371.5,456.7 361.5,447.4 343.2,434.0 342.0,432.3 344.3,432.5 349.0,434.2 359.5,439.8 368.5,446.3 376.8,454.0 384.8,463.5 390.7,472.5 395.6,483.0 396.9,487.5 397.0,489.7ZM397.5,456.5 395.5,456.5 393.0,455.2 385.0,448.4 378.7,441.0 377.6,438.5 378.0,436.8 380.5,436.3 384.0,437.4 388.0,439.7 391.9,443.0 395.2,447.0 397.4,451.0 398.4,454.5 397.5,456.5ZM386.5,482.4 384.0,480.2 369.1,462.5 351.9,446.5 350.0,444.0 351.5,444.0 354.0,445.0 360.5,448.8 367.0,453.8 373.1,459.5 378.8,466.0 383.2,472.5 386.3,479.0 386.9,481.5 386.5,482.4ZM326.0,682.0 298.0,682.0 298.0,673.2 310.5,672.1 322.5,671.8 330.0,672.5 333.5,674.0 334.0,676.0 332.7,678.0 329.5,680.4 326.0,682.0Z"/>
<path fill="#0a6066" fill-rule="evenodd" d="M430.5,491.6 428.5,489.7 422.5,478.7 418.6,473.0 405.0,455.0 382.0,427.5 378.9,423.0 378.5,420.9 380.0,420.6 383.5,421.9 392.0,427.6 401.0,435.9 409.0,445.5 414.6,454.0 428.5,478.5 431.2,487.0 431.3,490.5 430.5,491.6ZM396.0,487.1 395.5,487.3 394.5,486.3 381.5,468.0 372.2,457.0 363.0,448.4 346.0,435.5 344.4,433.5 347.0,433.9 351.0,435.5 360.0,440.4 368.5,446.6 376.5,454.0 383.8,462.5 389.8,471.5 394.5,481.0 396.0,487.1ZM394.5,452.2 393.5,452.5 391.5,451.7 386.0,447.2 381.7,442.0 381.1,440.5 381.5,439.3 383.0,439.0 385.5,439.9 390.3,443.5 394.0,448.5 394.8,451.0 394.5,452.2ZM385.5,480.2 383.5,478.9 370.3,463.5 353.5,447.5 351.9,445.0 355.3,446.0 361.0,449.4 367.0,454.1 373.2,460.0 378.4,466.0 382.1,471.5 384.9,477.0 385.5,480.2ZM324.0,682.0 298.0,682.0 298.0,674.0 310.0,672.8 320.5,672.5 327.5,673.1 331.1,674.5 331.8,676.0 330.7,678.0 328.1,680.0 324.0,682.0Z"/>
<path fill="#0a4a66" fill-rule="evenodd" d="M430.0,489.8 428.0,487.8 419.7,473.5 405.1,454.5 383.4,428.5 380.4,424.0 380.3,422.0 382.0,422.0 385.3,423.5 393.5,429.3 401.6,437.0 409.0,446.0 414.5,454.4 421.7,468.0 428.0,478.5 430.5,486.0 430.7,488.5 430.0,489.8ZM394.5,485.0 381.1,467.0 372.5,457.0 363.0,448.1 346.8,435.0 348.5,435.0 351.3,436.0 360.4,441.0 368.6,447.0 376.7,454.5 383.5,462.5 389.5,471.5 394.0,480.8 394.9,484.0 394.5,485.0ZM384.5,478.1 384.0,478.4 382.5,477.2 369.7,462.5 353.6,446.5 354.5,446.3 356.3,447.0 362.0,450.5 372.5,459.6 380.5,469.5 383.6,475.0 384.5,478.1ZM322.0,682.0 298.0,682.0 298.0,674.6 318.5,673.2 325.0,673.7 328.8,675.0 329.5,676.5 328.3,678.5 322.0,682.0Z"/>
<path fill="#062e60" fill-rule="evenodd" d="M429.5,487.8 427.5,485.9 419.8,472.5 384.4,429.0 381.9,425.0 382.0,423.4 384.0,423.6 386.9,425.0 394.4,430.5 402.0,437.9 408.5,445.8 414.0,454.2 421.7,469.0 427.5,478.5 429.6,484.0 429.9,486.5 429.5,487.8ZM393.5,482.7 380.2,465.5 373.2,457.5 365.0,449.6 350.8,438.0 349.5,436.3 354.6,438.0 363.0,443.0 369.5,448.0 376.5,454.6 382.5,461.6 388.5,470.3 392.5,478.0 393.6,481.0 393.5,482.7ZM383.0,476.6 380.5,474.5 368.1,460.5 356.9,449.5 356.0,447.9 359.0,448.9 363.6,452.0 373.5,461.0 380.5,470.0 383.0,474.8 383.0,476.6ZM319.5,682.0 298.0,682.0 298.0,675.3 308.5,674.2 318.0,673.9 324.2,674.5 327.1,676.0 327.1,677.5 325.8,679.0 319.5,682.0Z"/>
<path fill="#001a4a" fill-rule="evenodd" d="M428.5,485.5 427.0,483.8 420.6,472.0 388.4,433.5 384.5,428.0 383.6,426.0 383.8,425.0 385.0,424.9 387.5,426.0 394.4,431.0 401.5,437.8 407.5,445.0 413.5,454.1 421.7,470.5 427.0,478.8 428.7,483.0 428.9,485.0 428.5,485.5ZM392.5,480.1 390.5,478.6 379.7,464.5 373.1,457.0 365.0,449.2 353.5,439.5 352.4,438.0 356.6,439.5 363.9,444.0 370.3,449.0 376.5,455.0 382.5,462.0 387.0,468.4 391.0,475.5 392.5,480.1ZM382.0,474.7 379.5,472.8 359.4,450.5 362.0,451.5 365.5,454.0 373.5,461.4 379.5,469.0 381.5,472.5 382.0,474.7ZM317.5,682.0 298.0,682.0 298.0,676.0 307.0,674.9 316.0,674.5 322.0,675.1 324.8,676.5 324.7,678.0 323.1,679.5 317.5,682.0Z"/>
<path fill="#000a30" fill-rule="evenodd" d="M418.0,466.9 412.5,461.7 391.0,436.0 386.5,429.5 385.8,428.0 386.0,426.9 387.5,427.0 389.5,428.0 394.3,431.5 400.0,436.8 405.5,443.0 410.5,450.0 414.0,456.0 417.5,463.6 418.3,466.0 418.0,466.9ZM390.5,477.5 374.9,458.5 356.3,440.5 360.0,442.0 366.0,446.0 372.0,451.0 377.5,456.5 387.0,469.0 390.5,475.7 390.9,477.0 390.5,477.5ZM380.0,472.2 373.0,464.5 370.5,460.0 372.5,461.2 376.5,465.5 379.5,469.9 380.2,471.5 380.0,472.2ZM315.0,682.0 298.0,682.0 298.0,676.8 306.0,675.6 314.0,675.2 319.5,675.6 322.5,677.0 322.5,678.0 321.1,679.5 315.0,682.0Z"/>
<path fill="#000018" fill-rule="evenodd" d="M415.0,461.9 413.5,461.2 410.5,458.2 394.5,439.5 389.5,432.5 388.7,430.5 389.0,429.5 391.0,430.1 395.1,433.0 404.5,442.7 412.0,453.7 414.5,459.0 415.0,461.9ZM388.5,473.9 367.5,448.9 374.0,454.1 380.5,461.0 386.0,468.4 388.0,471.9 388.5,473.9ZM311.5,682.0 298.0,682.0 298.0,677.7 304.1,676.5 312.0,675.9 317.5,676.3 319.9,677.5 319.9,678.5 318.0,680.0 311.5,682.0Z"/>
<path d="M297.00,423.22 A110.00,110.00 0 0 1 297.00,643.18" fill="none" stroke="#000" stroke-width="1.3" stroke-dasharray="9 5.5"/>
</g>
<path d="M300.00,386.59 A146.70,146.70 0 0 1 300.00,679.81" fill="none" stroke="#2a1a00" stroke-opacity="0.8" stroke-width="0.8"/>
<rect x="225.30" y="96.70" width="38.30" height="6.52" fill="#ffffff"/>
<rect x="225.30" y="102.82" width="38.30" height="6.52" fill="#f8da00"/>
<rect x="225.30" y="108.95" width="38.30" height="6.52" fill="#f0c000"/>
<rect x="225.30" y="115.07" width="38.30" height="6.52" fill="#ebab00"/>
<rect x="225.30" y="121.20" width="38.30" height="6.52" fill="#e89800"/>
<rect x="225.30" y="127.32" width="38.30" height="6.52" fill="#e48400"/>
<rect x="225.30" y="133.44" width="38.30" height="6.52" fill="#e07000"/>
<rect x="225.30" y="139.57" width="38.30" height="6.52" fill="#dc5c00"/>
<rect x="225.30" y="145.69" width="38.30" height="6.52" fill="#d84800"/>
<rect x="225.30" y="151.82" width="38.30" height="6.52" fill="#cc3000"/>
<rect x="225.30" y="157.94" width="38.30" height="6.52" fill="#c80a00"/>
<rect x="225.30" y="164.06" width="38.30" height="6.52" fill="#a81400"/>
<rect x="225.30" y="170.19" width="38.30" height="6.52" fill="#7b5400"/>
<rect x="225.30" y="176.31" width="38.30" height="6.52" fill="#4a6a00"/>
<rect x="225.30" y="182.44" width="38.30" height="6.52" fill="#008000"/>
<rect x="225.30" y="188.56" width="38.30" height="6.52" fill="#0a8a28"/>
<rect x="225.30" y="194.68" width="38.30" height="6.52" fill="#0f8a3c"/>
<rect x="225.30" y="200.81" width="38.30" height="6.52" fill="#108c58"/>
<rect x="225.30" y="206.93" width="38.30" height="6.52" fill="#0a7868"/>
<rect x="225.30" y="213.06" width="38.30" height="6.52" fill="#0a6066"/>
<rect x="225.30" y="219.18" width="38.30" height="6.52" fill="#0a4a66"/>
<rect x="225.30" y="225.30" width="38.30" height="6.52" fill="#062e60"/>
<rect x="225.30" y="231.43" width="38.30" height="6.52" fill="#001a4a"/>
<rect x="225.30" y="237.55" width="38.30" height="6.52" fill="#000a30"/>
<rect x="225.30" y="243.68" width="38.30" height="6.52" fill="#000018"/>
<rect x="225.30" y="96.70" width="38.30" height="153.10" fill="none" stroke="#555" stroke-width="1"/>
<rect x="531.80" y="96.90" width="38.20" height="6.52" fill="#ffffff"/>
<rect x="531.80" y="103.02" width="38.20" height="6.52" fill="#f8da00"/>
<rect x="531.80" y="109.15" width="38.20" height="6.52" fill="#f0c000"/>
<rect x="531.80" y="115.27" width="38.20" height="6.52" fill="#ebab00"/>
<rect x="531.80" y="121.40" width="38.20" height="6.52" fill="#e89800"/>
<rect x="531.80" y="127.52" width="38.20" height="6.52" fill="#e48400"/>
<rect x="531.80" y="133.64" width="38.20" height="6.52" fill="#e07000"/>
<rect x="531.80" y="139.77" width="38.20" height="6.52" fill="#dc5c00"/>
<rect x="531.80" y="145.89" width="38.20" height="6.52" fill="#d84800"/>
<rect x="531.80" y="152.02" width="38.20" height="6.52" fill="#cc3000"/>
<rect x="531.80" y="158.14" width="38.20" height="6.52" fill="#c80a00"/>
<rect x="531.80" y="164.26" width="38.20" height="6.52" fill="#a81400"/>
<rect x="531.80" y="170.39" width="38.20" height="6.52" fill="#7b5400"/>
<rect x="531.80" y="176.51" width="38.20" height="6.52" fill="#4a6a00"/>
<rect x="531.80" y="182.64" width="38.20" height="6.52" fill="#008000"/>
<rect x="531.80" y="188.76" width="38.20" height="6.52" fill="#0a8a28"/>
<rect x="531.80" y="194.88" width="38.20" height="6.52" fill="#0f8a3c"/>
<rect x="531.80" y="201.01" width="38.20" height="6.52" fill="#108c58"/>
<rect x="531.80" y="207.13" width="38.20" height="6.52" fill="#0a7868"/>
<rect x="531.80" y="213.26" width="38.20" height="6.52" fill="#0a6066"/>
<rect x="531.80" y="219.38" width="38.20" height="6.52" fill="#0a4a66"/>
<rect x="531.80" y="225.50" width="38.20" height="6.52" fill="#062e60"/>
<rect x="531.80" y="231.63" width="38.20" height="6.52" fill="#001a4a"/>
<rect x="531.80" y="237.75" width="38.20" height="6.52" fill="#000a30"/>
<rect x="531.80" y="243.88" width="38.20" height="6.52" fill="#000018"/>
<rect x="531.80" y="96.90" width="38.20" height="153.10" fill="none" stroke="#555" stroke-width="1"/>
<rect x="225.40" y="449.20" width="38.20" height="6.54" fill="#ffffff"/>
<rect x="225.40" y="455.34" width="38.20" height="6.54" fill="#f8da00"/>
<rect x="225.40" y="461.48" width="38.20" height="6.54" fill="#f0c000"/>
<rect x="225.40" y="467.62" width="38.20" height="6.54" fill="#ebab00"/>
<rect x="225.40" y="473.76" width="38.20" height="6.54" fill="#e89800"/>
<rect x="225.40" y="479.90" width="38.20" height="6.54" fill="#e48400"/>
<rect x="225.40" y="486.04" width="38.20" height="6.54" fill="#e07000"/>
<rect x="225.40" y="492.18" width="38.20" height="6.54" fill="#dc5c00"/>
<rect x="225.40" y="498.32" width="38.20" height="6.54" fill="#d84800"/>
<rect x="225.40" y="504.46" width="38.20" height="6.54" fill="#cc3000"/>
<rect x="225.40" y="510.60" width="38.20" height="6.54" fill="#c80a00"/>
<rect x="225.40" y="516.74" width="38.20" height="6.54" fill="#a81400"/>
<rect x="225.40" y="522.88" width="38.20" height="6.54" fill="#7b5400"/>
<rect x="225.40" y="529.02" width="38.20" height="6.54" fill="#4a6a00"/>
<rect x="225.40" y="535.16" width="38.20" height="6.54" fill="#008000"/>
<rect x="225.40" y="541.30" width="38.20" height="6.54" fill="#0a8a28"/>
<rect x="225.40" y="547.44" width="38.20" height="6.54" fill="#0f8a3c"/>
<rect x="225.40" y="553.58" width="38.20" height="6.54" fill="#108c58"/>
<rect x="225.40" y="559.72" width="38.20" height="6.54" fill="#0a7868"/>
<rect x="225.40" y="565.86" width="38.20" height="6.54" fill="#0a6066"/>
<rect x="225.40" y="572.00" width="38.20" height="6.54" fill="#0a4a66"/>
<rect x="225.40" y="578.14" width="38.20" height="6.54" fill="#062e60"/>
<rect x="225.40" y="584.28" width="38.20" height="6.54" fill="#001a4a"/>
<rect x="225.40" y="590.42" width="38.20" height="6.54" fill="#000a30"/>
<rect x="225.40" y="596.56" width="38.20" height="6.54" fill="#000018"/>
<rect x="225.40" y="449.20" width="38.20" height="153.50" fill="none" stroke="#555" stroke-width="1"/>
<rect x="531.30" y="449.60" width="38.90" height="17.60" fill="#ffffff"/>
<rect x="531.30" y="466.80" width="38.90" height="5.54" fill="#f8da00"/>
<rect x="531.30" y="471.94" width="38.90" height="5.54" fill="#f0c000"/>
<rect x="531.30" y="477.07" width="38.90" height="5.54" fill="#ebab00"/>
<rect x="531.30" y="482.21" width="38.90" height="5.54" fill="#e89800"/>
<rect x="531.30" y="487.35" width="38.90" height="5.54" fill="#e48400"/>
<rect x="531.30" y="492.48" width="38.90" height="5.54" fill="#e07000"/>
<rect x="531.30" y="497.62" width="38.90" height="5.54" fill="#dc5c00"/>
<rect x="531.30" y="502.75" width="38.90" height="5.54" fill="#d84800"/>
<rect x="531.30" y="507.89" width="38.90" height="5.54" fill="#cc3000"/>
<rect x="531.30" y="513.03" width="38.90" height="5.54" fill="#c80a00"/>
<rect x="531.30" y="518.16" width="38.90" height="5.54" fill="#a81400"/>
<rect x="531.30" y="523.30" width="38.90" height="5.70" fill="#7b5400"/>
<rect x="531.30" y="528.60" width="38.90" height="5.47" fill="#4a6a00"/>
<rect x="531.30" y="533.67" width="38.90" height="5.47" fill="#008000"/>
<rect x="531.30" y="538.73" width="38.90" height="5.47" fill="#0a8a28"/>
<rect x="531.30" y="543.80" width="38.90" height="5.47" fill="#0f8a3c"/>
<rect x="531.30" y="548.87" width="38.90" height="5.47" fill="#108c58"/>
<rect x="531.30" y="553.93" width="38.90" height="5.47" fill="#0a7868"/>
<rect x="531.30" y="559.00" width="38.90" height="5.47" fill="#0a6066"/>
<rect x="531.30" y="564.07" width="38.90" height="5.47" fill="#0a4a66"/>
<rect x="531.30" y="569.13" width="38.90" height="5.47" fill="#062e60"/>
<rect x="531.30" y="574.20" width="38.90" height="5.47" fill="#001a4a"/>
<rect x="531.30" y="579.27" width="38.90" height="5.47" fill="#000a30"/>
<rect x="531.30" y="584.33" width="38.90" height="5.47" fill="#000018"/>
<rect x="531.30" y="589.40" width="38.90" height="14.20" fill="#ffffff"/>
<rect x="531.30" y="449.60" width="38.90" height="153.60" fill="none" stroke="#555" stroke-width="1"/>
</svg>
<div class="t" style="left:11.25px;top:-1.25px;font-size:23.00px;transform:scaleX(1.000)">(</div>
<div class="t" style="left:20.25px;top:4.25px;font-size:18.00px;transform:scaleX(1.000)">A</div>
<div class="t" style="left:34.00px;top:-1.25px;font-size:23.00px;transform:scaleX(1.000)">)</div>
<div class="ti" style="left:53.00px;top:3.50px;font-size:18.50px;transform:scaleX(1.190)">α</div>
<div class="ti sm" style="left:68.00px;top:14.30px;font-size:11.76px;transform:scaleX(1.295)">φφ</div>
<div class="t" style="left:84.30px;top:-1.15px;font-size:23.00px;transform:scaleX(1.000)">(</div>
<div class="ti" style="left:92.85px;top:2.50px;font-size:19.50px;transform:scaleX(1.500)">r</div>
<div class="t" style="left:105.70px;top:-0.50px;font-size:23.08px;transform:scaleX(0.953)">,</div>
<div class="ti" style="left:111.20px;top:1.75px;font-size:20.60px;transform:scaleX(1.220)">θ</div>
<div class="t" style="left:124.65px;top:-1.15px;font-size:23.00px;transform:scaleX(1.000)">)</div>
<div class="t" style="left:312.90px;top:-1.40px;font-size:23.00px;transform:scaleX(1.000)">(</div>
<div class="t" style="left:323.40px;top:4.00px;font-size:18.00px;transform:scaleX(1.000)">B</div>
<div class="t" style="left:336.60px;top:-1.40px;font-size:23.00px;transform:scaleX(1.000)">)</div>
<div class="ti" style="left:355.65px;top:3.85px;font-size:18.50px;transform:scaleX(1.190)">α</div>
<div class="t" style="left:367.70px;top:5.70px;font-size:21.62px;transform:scaleX(0.994)">*</div>
<div class="t" style="left:378.00px;top:-1.15px;font-size:23.00px;transform:scaleX(1.000)">(</div>
<div class="ti" style="left:387.50px;top:2.50px;font-size:19.50px;transform:scaleX(1.500)">r</div>
<div class="t" style="left:400.30px;top:-0.50px;font-size:23.08px;transform:scaleX(0.982)">,</div>
<div class="ti" style="left:406.15px;top:1.75px;font-size:20.60px;transform:scaleX(1.220)">θ</div>
<div class="t" style="left:420.00px;top:-1.15px;font-size:23.00px;transform:scaleX(1.000)">)</div>
<div class="t" style="left:15.75px;top:351.25px;font-size:23.00px;transform:scaleX(1.000)">(</div>
<div class="t" style="left:24.50px;top:355.00px;font-size:19.60px;transform:scaleX(1.000)">C</div>
<div class="t" style="left:38.75px;top:351.25px;font-size:23.00px;transform:scaleX(1.000)">)</div>
<div class="ti" style="left:57.30px;top:353.00px;font-size:21.50px;transform:scaleX(1.290)">h</div>
<div class="ti" style="left:71.70px;top:362.00px;font-size:15.53px;transform:scaleX(1.068)">v</div>
<div class="t" style="left:79.00px;top:351.15px;font-size:23.00px;transform:scaleX(1.000)">(</div>
<div class="ti" style="left:87.50px;top:354.50px;font-size:19.50px;transform:scaleX(1.500)">r</div>
<div class="t" style="left:100.00px;top:351.70px;font-size:23.08px;transform:scaleX(1.156)">,</div>
<div class="ti" style="left:105.85px;top:353.85px;font-size:20.60px;transform:scaleX(1.220)">θ</div>
<div class="t" style="left:119.65px;top:351.15px;font-size:23.00px;transform:scaleX(1.000)">)</div>
<div class="t" style="left:313.25px;top:351.00px;font-size:23.00px;transform:scaleX(1.000)">(</div>
<div class="t" style="left:321.75px;top:355.00px;font-size:19.60px;transform:scaleX(1.000)">D</div>
<div class="t" style="left:337.25px;top:351.00px;font-size:23.00px;transform:scaleX(1.000)">)</div>
<div class="ti" style="left:356.00px;top:353.35px;font-size:21.50px;transform:scaleX(1.290)">h</div>
<div class="ti sm" style="left:369.30px;top:365.30px;font-size:12.12px;transform:scaleX(1.237)">B</div>
<div class="t" style="left:378.30px;top:351.15px;font-size:23.00px;transform:scaleX(1.000)">(</div>
<div class="ti" style="left:386.85px;top:354.50px;font-size:19.50px;transform:scaleX(1.500)">r</div>
<div class="t" style="left:399.00px;top:351.70px;font-size:23.08px;transform:scaleX(1.156)">,</div>
<div class="ti" style="left:405.50px;top:353.85px;font-size:20.60px;transform:scaleX(1.220)">θ</div>
<div class="t" style="left:419.00px;top:351.15px;font-size:23.00px;transform:scaleX(1.000)">)</div>
<div class="t" style="left:225.25px;top:67.50px;font-size:19.17px;transform:scaleX(1.314)">ms</div>
<div class="t sm" style="left:255.80px;top:68.50px;font-size:8.79px;transform:scaleX(1.185)">−1</div>
<div class="t" style="left:532.90px;top:72.50px;font-size:20.00px;transform:scaleX(1.221)">ms</div>
<div class="t sm" style="left:561.50px;top:74.50px;font-size:8.18px;transform:scaleX(1.171)">−1</div>
<div class="t" style="left:206.30px;top:423.00px;font-size:18.38px;transform:scaleX(1.201)">10</div>
<div class="t sm" style="left:229.20px;top:424.00px;font-size:8.53px;transform:scaleX(1.374)">−6</div>
<div class="t" style="left:251.70px;top:423.20px;font-size:17.29px;transform:scaleX(1.433)">ms</div>
<div class="t sm" style="left:281.70px;top:424.00px;font-size:8.66px;transform:scaleX(1.203)">−2</div>
<div class="t" style="left:513.00px;top:422.20px;font-size:18.38px;transform:scaleX(1.201)">10</div>
<div class="t sm" style="left:535.80px;top:423.20px;font-size:8.53px;transform:scaleX(1.386)">−6</div>
<div class="t" style="left:557.30px;top:422.30px;font-size:17.50px;transform:scaleX(1.416)">ms</div>
<div class="t sm" style="left:588.30px;top:423.20px;font-size:8.66px;transform:scaleX(1.203)">−2</div>
<div class="t" style="left:207.60px;top:95.50px;font-size:17.94px;transform:scaleX(1.287)">6</div>
<div class="t" style="left:206.60px;top:116.00px;font-size:17.94px;transform:scaleX(1.287)">4</div>
<div class="t" style="left:207.60px;top:141.00px;font-size:17.94px;transform:scaleX(1.287)">2</div>
<div class="t" style="left:207.60px;top:166.45px;font-size:17.94px;transform:scaleX(1.287)">0</div>
<div class="t" style="left:194.60px;top:192.55px;font-size:17.94px;transform:scaleX(1.287)">−2</div>
<div class="t" style="left:193.60px;top:218.00px;font-size:17.94px;transform:scaleX(1.287)">−4</div>
<div class="t" style="left:194.60px;top:236.30px;font-size:17.94px;transform:scaleX(1.287)">−6</div>
<div class="t" style="left:502.70px;top:94.60px;font-size:17.94px;transform:scaleX(1.287)">20</div>
<div class="t" style="left:502.70px;top:128.35px;font-size:17.94px;transform:scaleX(1.287)">10</div>
<div class="t" style="left:514.70px;top:167.05px;font-size:17.94px;transform:scaleX(1.287)">0</div>
<div class="t" style="left:489.70px;top:205.75px;font-size:17.94px;transform:scaleX(1.287)">−10</div>
<div class="t" style="left:489.70px;top:236.50px;font-size:17.94px;transform:scaleX(1.287)">−20</div>
<div class="t" style="left:195.60px;top:448.50px;font-size:17.94px;transform:scaleX(1.287)">40</div>
<div class="t" style="left:195.60px;top:481.80px;font-size:17.94px;transform:scaleX(1.287)">20</div>
<div class="t" style="left:207.60px;top:520.35px;font-size:17.94px;transform:scaleX(1.287)">0</div>
<div class="t" style="left:182.60px;top:557.95px;font-size:17.94px;transform:scaleX(1.287)">−20</div>
<div class="t" style="left:182.60px;top:588.50px;font-size:17.94px;transform:scaleX(1.287)">−40</div>
<div class="t" style="left:513.90px;top:448.90px;font-size:17.94px;transform:scaleX(1.287)">6</div>
<div class="t" style="left:512.90px;top:468.90px;font-size:17.94px;transform:scaleX(1.287)">4</div>
<div class="t" style="left:513.90px;top:493.50px;font-size:17.94px;transform:scaleX(1.287)">2</div>
<div class="t" style="left:513.90px;top:519.65px;font-size:17.94px;transform:scaleX(1.287)">0</div>
<div class="t" style="left:500.90px;top:545.35px;font-size:17.94px;transform:scaleX(1.287)">−2</div>
<div class="t" style="left:499.90px;top:570.10px;font-size:17.94px;transform:scaleX(1.287)">−4</div>
<div class="t" style="left:500.90px;top:588.90px;font-size:17.94px;transform:scaleX(1.287)">−6</div>
</body></html>
